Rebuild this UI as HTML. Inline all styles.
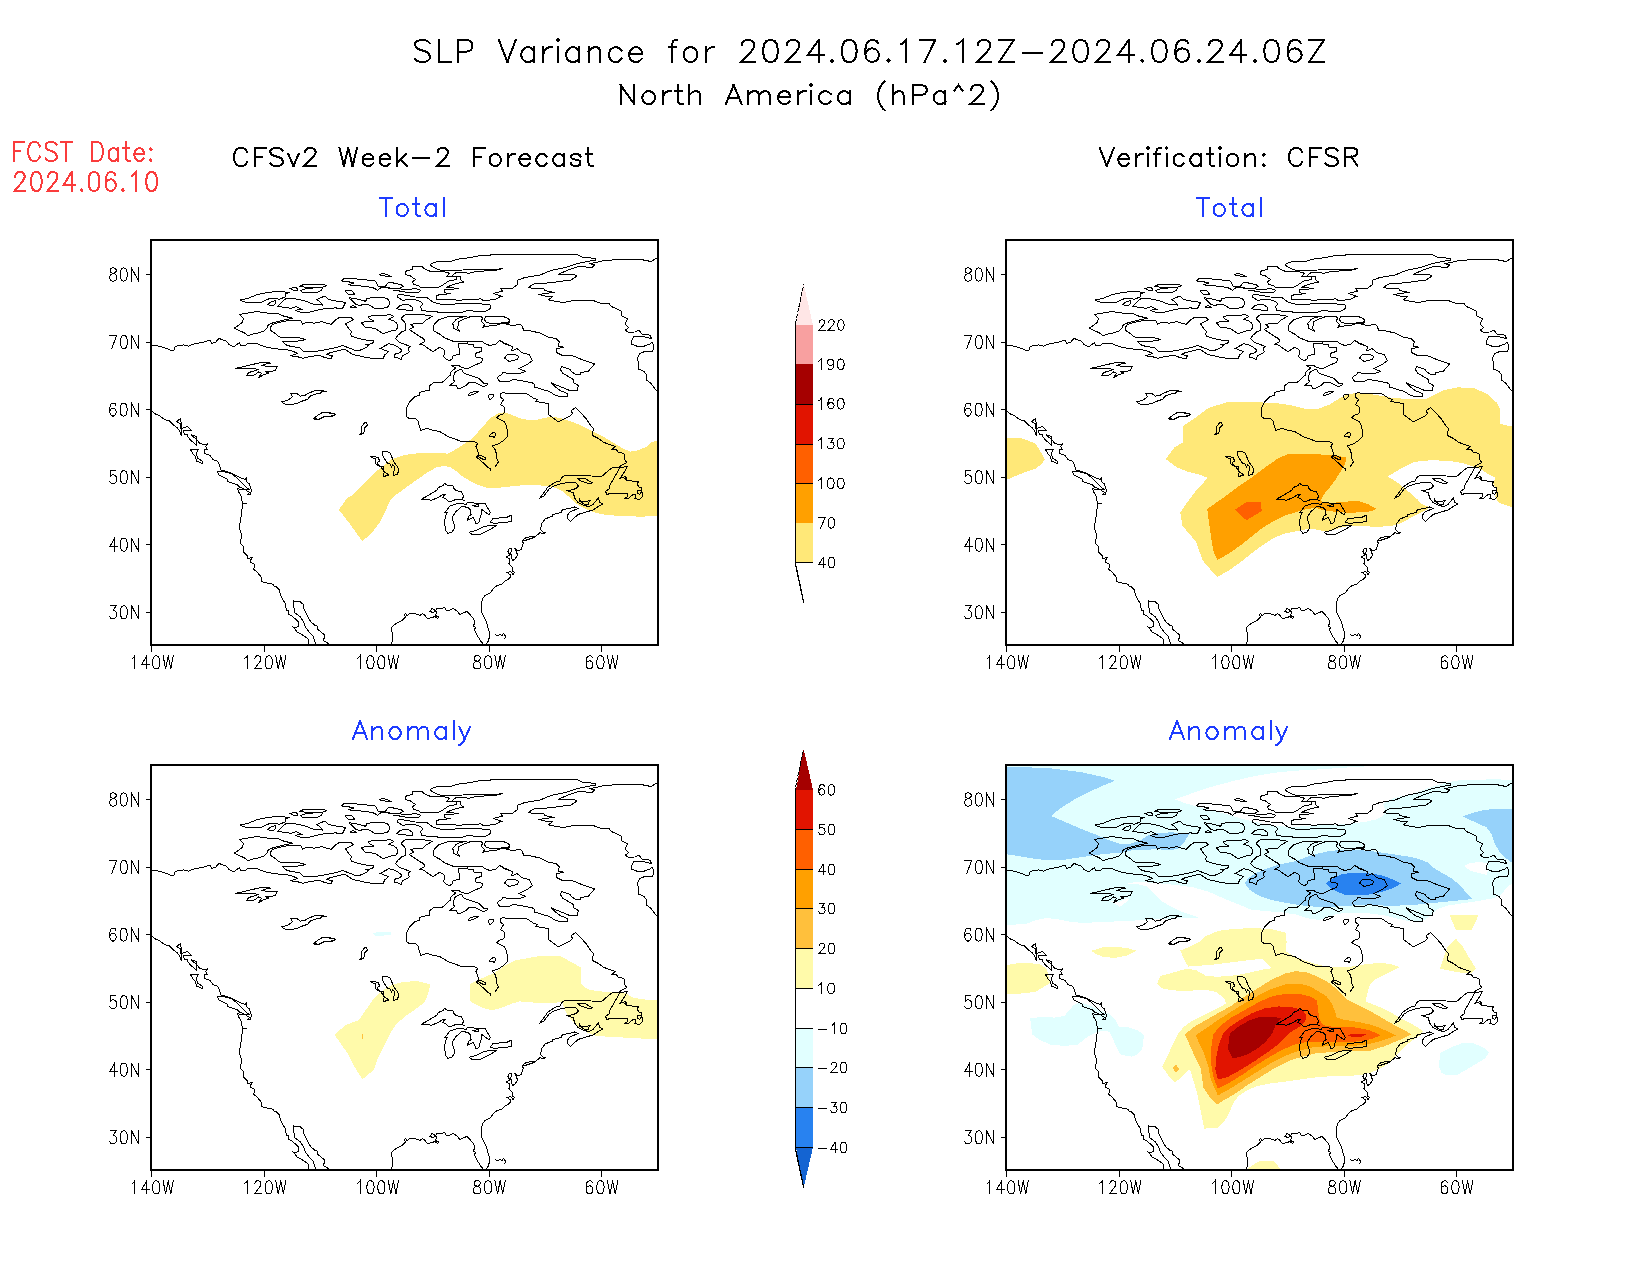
<!DOCTYPE html>
<html><head><meta charset="utf-8"><title>SLP Variance</title>
<style>html,body{margin:0;padding:0;background:#fff;font-family:"Liberation Sans",sans-serif}svg{display:block}</style></head><body>
<svg width="1650" height="1275" viewBox="0 0 1650 1275" shape-rendering="crispEdges">
<title>SLP Variance for 2024.06.17.12Z-2024.06.24.06Z North America (hPa^2)</title>
<desc>FCST Date: 2024.06.10. CFSv2 Week-2 Forecast: Total, Anomaly. Verification: CFSR: Total, Anomaly. Axes 80N 70N 60N 50N 40N 30N, 140W 120W 100W 80W 60W. Colorbar totals 40 70 100 130 160 190 220; anomalies -40 -30 -20 -10 10 20 30 40 50 60.</desc>
<rect width="1650" height="1275" fill="#fff"/>
<defs><clipPath id="pc"><rect x="151" y="240" width="507" height="405"/></clipPath>
<path id="coast" d="M150.36 345.29 L156.71 345.62 L161.72 346.96 L166.73 348.63 L170.91 350.3 L174.59 349.97 L174.59 347.46 L177.09 345.79 L183.78 344.95 L188.79 346.29 L192.13 344.45 L198.48 343.12 L203.99 341.95 L209.01 340.28 L210.51 340.94 L211.85 343.28 L216.02 342.28 L217.19 340.28 L219.37 338.27 L221.54 339.61 L224.71 340.28 L226.88 341.61 L229.39 344.95 L232.23 345.62 M240.11 300.08 L248.23 298.2 L256.97 294.71 L267.58 292.34 L276.32 291.71 L282.56 291.09 L285.93 292.34 L289.68 292.34 L285.06 294.21 L285.43 296.96 L279.44 299.08 L275.07 298.83 L270.7 298.2 L267.33 299.45 L262.59 301.95 L258.84 302.95 L246.98 302.57 L242.61 301.33 L240.11 300.08 M267.58 304.2 L271.33 301.7 L275.7 300.45 L275.95 303.2 L273.2 305.45 L269.45 305.45 L267.58 304.2 M289.43 288.47 L296.67 287.34 L297.54 290.46 L293.17 290.09 L289.43 288.47 M299.42 286.34 L303.79 284.47 L313.15 284.22 L321.89 284.47 L326.63 285.35 L323.76 286.97 L319.39 287.34 L311.9 287.59 L305.66 287.34 L299.42 286.34 M300.04 290.46 L305.66 288.84 L313.15 287.97 L323.14 287.97 L321.26 290.09 L318.14 291.96 L311.9 292.84 L303.16 292.59 L300.04 290.46 M277.57 306.57 L281.94 301.95 L285.68 298.83 L290.68 298.2 L296.92 299.08 L303.16 300.45 L308.15 302.2 L313.15 304.2 L319.39 304.45 L322.51 305.07 L320.01 301.7 L316.89 299.7 L320.64 297.83 L325.01 295.96 L328.75 299.45 L334.37 300.7 L340.61 301.7 L345.61 302.32 L342.49 308.44 L335.62 307.94 L328.13 308.19 L320.64 309.44 L314.4 310.94 L308.15 312.56 L300.66 312.31 L295.67 310.44 L299.42 309.19 L302.54 309.69 L299.42 308.44 L296.29 306.32 L291.93 308.19 L285.68 307.82 L281.31 306.94 L277.57 306.57 M239.49 314.43 L246.98 313.19 L257.59 311.31 L263.21 312.81 L270.7 313.19 L278.19 313.44 L283.19 315.93 L288.18 317.18 L292.8 318.18 L286.93 319.43 L279.44 321.05 L273.2 322.8 L268.45 324.42 L266.96 328.17 L264.46 330.66 L259.47 332.79 L253.22 334.03 L247.98 335.66 L243.86 332.54 L238.24 330.29 L234.25 328.17 L238.87 325.05 L241.99 322.55 L243.49 318.8 L239.49 314.43 M270.7 326.92 L271.95 325.05 L275.07 323.42 L281.94 321.68 L289.43 320.43 L295.67 320.05 L300.66 320.43 L302.54 324.05 L306.91 322.3 L314.4 323.17 L321.89 321.68 L326.88 323.17 L331.25 324.42 L335.62 319.68 L339.37 317.56 L344.98 317.18 L350.6 317.56 L353.72 319.18 L350.6 321.3 L345.61 323.8 L347.48 326.92 L349.98 330.04 L352.1 331.91 L350.6 333.79 L351.48 336.28 L356.84 337.91 L362.46 339.4 L368.08 340.4 L373.7 340.9 L372.45 343.77 L365.58 344.4 L368.7 345.65 L364.96 348.14 L360.59 350.01 L355.6 350.64 L351.85 349.02 L347.48 347.52 L343.11 345.4 L338.12 346.89 L330.63 348.77 L321.89 350.39 L313.15 351.64 L303.79 351.64 L300.41 348.14 L294.42 346.89 L287.56 345.65 L284.43 343.77 L282.81 341.28 L290.68 341.53 L299.42 340.9 L305.66 339.65 L300.04 337.91 L291.93 337.53 L284.43 337.53 L278.82 336.91 L276.32 334.41 L273.82 332.54 L270.95 330.66 L270.7 326.92 M232 345.9 L234.5 346.64 L237.62 343.77 L239.49 342.9 L240.74 345.9 L244.48 345.9 L247.61 343.77 L252.6 343.4 L257.59 343.77 L263.21 346.27 L269.45 347.77 L275.7 348.77 L281.94 349.39 L288.18 350.01 L293.17 351.26 L297.54 353.51 L293.8 354.63 L290.68 355.88 L296.92 356.51 L303.16 358.38 L308.15 356.88 L314.4 355.88 L319.39 355.38 L323.76 357.13 L328.13 358.38 L331.25 358.13 L332.5 355.38 L329.38 355.01 L326.63 354.38 L330.63 352.51 L335.62 351.26 L340.61 350.01 L344.98 349.39 L348.73 351.89 L352.47 354.38 L358.09 355.63 L364.33 357.13 L373.07 358.5 L383.06 358.38 L384.93 354.63 L388.68 351.64 L384.31 350.01 L379.94 348.39 L383.69 346.52 L388.68 343.77 L394.3 345.02 L398.67 347.52 L401.79 350.01 L400.54 352.51 L394.3 354.38 L394.67 357.51 L398.67 358.13 L401.16 359.63 L402.41 355.88 L406.78 353.76 L409.53 351.89 L408.03 348.14 L410.53 346.52 L404.91 344.4 L399.29 342.27 L395.55 338.78 L398.04 335.03 L400.54 333.16 M360.59 322.8 L366.21 321.55 L374.32 321.05 L369.33 318.8 L368.7 316.68 L373.07 315.43 L381.81 315.31 L386.81 315.06 L389.55 314.06 L393.67 316.56 L388.05 319.43 L393.67 320.68 L396.79 323.17 L397.79 326.92 L396.17 330.04 L389.93 331.29 L383.06 333.79 L379.32 331.29 L375.57 328.79 L369.33 327.54 L364.33 326.92 L363.09 324.42 L360.59 322.8 M348.73 297.83 L354.97 298.45 L360.59 299.83 L365.58 301.33 L366.83 298.83 L371.83 297.58 L380.56 297.33 L386.81 298.2 L389.05 300.7 L389.55 303.82 L387.43 307.57 L381.19 308.44 L374.32 308.19 L369.95 305.07 L364.33 304.45 L359.34 305.45 L354.97 303.82 L352.47 300.7 L348.73 297.83 M349.98 307.57 L352.85 305.07 L356.84 307.57 L349.98 307.57 M344.98 290.71 L351.23 290.09 L354.97 294.71 L348.1 294.21 L344.98 290.71 M341.24 280.48 L344.36 278.48 L351.85 278.23 L360.59 279.48 L368.08 280.1 L374.32 280.73 L376.82 282.6 L377.44 285.72 L380.56 286.97 L385.56 286.34 L387.43 283.22 L390.55 282.35 L395.55 283.47 L401.16 284.72 L403.04 286.34 L399.29 288.22 L394.3 288.22 L386.81 287.84 L381.19 287.59 L377.44 290.46 L374.32 288.22 L368.08 286.72 L360.59 285.97 L351.85 285.72 L348.1 284.47 L352.47 283.85 L353.72 282.6 L349.35 281.98 L344.36 281.73 L341.24 280.48 M393.05 290.46 L399.29 290.96 L404.28 291.96 L411.78 292.59 L419.27 291.96 L420.51 290.09 L416.77 288.84 L406.78 289.22 L396.79 288.84 L388.05 287.97 M379.32 274.86 L382.44 273.24 L386.81 274.48 L391.18 276.36 L384.93 275.98 L379.32 274.86 M396.79 308.82 L399.92 305.7 L404.91 304.2 L409.28 305.07 L412.4 307.57 L412.4 310.44 L406.78 310.06 L400.54 309.44 L396.79 308.82 M235.12 368.49 L243.24 366.62 L251.98 364.62 L260.71 362.5 L268.2 362.12 L270.7 363.37 L265.71 364 L261.96 365.62 L269.45 366.62 L277.57 366.24 L275.07 370.61 L269.45 371.86 L265.71 371.61 L268.83 373.11 L263.21 374.98 L258.84 377.48 L261.34 373.11 L258.84 371.86 L254.47 374.98 L246.36 375.61 L248.85 372.49 L255.1 370.61 L258.22 369.37 L251.98 368.12 L244.48 368.12 L235.12 368.49 M281.31 401.58 L287.56 400.58 L290.68 398.08 L292.55 396.58 L290.68 393.71 L296.92 393.34 L300.04 396.21 L304.41 395.58 L308.78 393.09 L314.4 390.84 L320.64 390.34 L326.88 391.46 L321.26 391.84 L320.64 393.34 L314.4 394.33 L310.03 396.21 L307.53 399.33 L301.91 401.2 L298.17 403.07 L293.17 404.32 L285.68 404.7 L281.31 401.58 M313.77 418.68 L318.14 414.93 L323.14 412.44 L329.38 413.06 L335.62 414.31 L330.63 416.18 L323.76 416.81 L319.39 419.3 L313.77 418.68 M500 254.2 L486.67 255.33 L480 255.67 L470 257.67 L456.67 259.33 L451.33 261.33 L437.33 261.33 L430 264.33 L432.67 267 L435.33 268.33 L441.33 270.33 L463.33 270 L483.33 269.33 L495.33 269.33 L502.67 268.67 L494.67 270.67 L484 271 L474 272 L468 273.67 L466.67 272.67 L456 272.67 L453.33 274.67 L451.33 276.67 L460.67 276.47 L460.8 279.67 L463.67 282.33 L456.67 283.33 L450.67 285.33 L446.67 287.47 L450.67 287.8 L458.67 288.33 L452 289.33 L444.67 289.8 L444.8 292.33 L446.67 293.33 L450.67 293.53 L445.33 294.33 L439.33 294.67 L436.53 296 L436.53 299.33 L455.33 299.53 L456.67 300.67 L461.33 300.67 L462.67 299.33 L478.67 299.2 L480 298.33 L483.33 300.67 L488 300.33 L496 299 L500 296.67 L502.67 296.67 L493.33 293.53 L500 291.67 L502.67 291.33 L501.33 289.67 L500.67 288.33 L504 288.2 M412.33 266.33 L421.67 266.33 L423.33 268 L426.67 270 L430.33 271.33 L442.67 271.33 L449.33 273 L448 275 L446.33 276.47 L456.67 277 L456.67 278.87 L455.33 279.8 L450 280.67 L446.67 282.33 L442.67 285 L438.67 287.33 L421.33 287.67 L418.67 286 L414 284.33 L412.33 281.67 L415.67 279.67 L412.67 277.67 L410 275.67 L405.67 274.67 L405.2 271.67 L407.33 270.67 L412.33 269.33 L412.33 266.33 M400 294.33 L408.67 295.67 L415.33 297 L426.67 297.33 L429.33 299.33 L433.33 302.33 L436.67 303.33 L444 304.67 L454.67 304.67 L455.33 303.13 L481.33 303.13 L482.67 304.33 L488.67 304.33 L490.67 305.67 L490.33 308.33 L488 310 L484.67 311.53 L473.33 311.67 L472.67 310.33 L467.33 310.33 L464 311.67 L462.67 312.33 L438 312.33 L437.33 311.53 L426.67 311.67 L425.33 310.33 L421.33 310.33 L421.2 308 L420 307 L422.67 304.67 L421.67 302.33 L419.33 301 L414.67 299.53 L406.67 299.53 L403.33 300.67 L400 298.67 L398 297.67 L397.47 296 L398.13 294.87 L400 294.33 M400 332.67 L405.67 330.33 L405.67 323.67 L404.67 322.33 L401 318.33 L404 315.33 L408 314.33 L424.67 314.2 L425.33 315.33 L432.67 316.2 L426.67 319.67 L422.67 323.33 L414 323.67 L410 324.67 L412 325.33 L413.67 327.33 L411.67 328.33 L409.33 329.53 L413.33 332.33 L420 336.67 L425 340 M466.67 316.2 L449.33 316.2 L438.67 319.67 L434.67 323.67 L433.33 326.33 L433.33 330.67 L440 334.33 L443.33 337.33 L450 340 M466.67 316.2 L460 317.67 L456 319.67 L452.33 323.67 L453.33 324.67 L453.33 328.33 L456.67 329.67 L459.67 331.67 L458 329 L457.33 327 L458.67 325 L458.67 321.67 L464 319 L471.33 316.33 L480.67 316.2 L482.67 318.33 L481.33 321 L484.67 324.67 L482.33 327.67 L484 326.67 L496.67 325 L500 323.8 L506.67 323.13 L510 322.33 M510 320.67 L508 318.33 L502.67 316.2 L486 316.33 L484.33 319.33 L486 322.33 L492 323.67 L499.33 323.13 L506.67 322.67 L509.33 321.67 M441 335 L443.33 337 L448 339.33 L453.33 341.33 L466.67 341.67 L482.67 342 L486 344 L490 345.67 L496 344 L500 340 L503.33 342.67 L510 345.33 M467.33 342 L467.33 343.33 L468 344.33 L473.67 344.53 L474 347.33 L481.67 347.53 L481.67 351.33 L476.67 352.87 L475.33 354.33 L475.67 357 L480.67 357.67 L482.67 359 L481.33 362.33 L475.33 365 L468.67 368 L465.67 368.33 L461.33 367.33 L458.67 365.33 L451.33 365.33 L455.67 368 L451 371.67 L450.33 375 L443.33 381.67 L441.33 382.47 L433.33 382.47 L429.33 386.33 L429.67 390.33 L426.67 390.67 L421.33 391.67 L419.33 393 L419.33 395.33 L415.33 396.33 L409.33 402.33 L406.33 408.33 L406.47 410 M467.33 343.33 L458.33 343.53 L458.33 347.33 L459.53 348.67 L459.33 354.33 L454 355.33 L452.33 356.67 L452 359 L449.33 360.67 L446 359 L443 355.67 L444.53 354.33 L444.53 350.33 L443.67 349.33 L439.33 347.33 L433.33 351.67 L431.33 350.67 L423.33 345 L419.33 344.33 L425 341.67 L424.67 339.33 L422.67 337.67 L418 335.33 M461.33 369 L464 373.33 L470.67 375.67 L478.67 378.33 L483.33 383 L487.67 383.33 L486.67 385.33 L483 386.67 L474.67 382.47 L469.33 382.33 L466.67 385 L460.33 388.33 L457.67 388.33 L456.33 385.33 L449.33 385.33 L453.33 383 L454.67 381 L453.33 379.67 L453.67 375.67 L455 372.33 L456.67 371 L461.33 369 M503 372.2 L502 374.33 L498.67 376 L497.33 378.33 L500 381.67 M468 395.67 L470 393 L474 391.67 L479 391.33 L476 393 L472.67 394.67 L468 395.67 M488 397 L489.67 394.2 L493.67 394.2 L493.67 396.33 L490.33 399.8 L488 397 M510 393.33 L505.33 393.33 L503.33 392.2 L500.67 393.67 L500.33 397.33 L503.67 399.33 L502 402.33 L500.33 404.67 L503.33 406 L504.67 408.33 L504.53 410 M500 254.2 L530 254.2 L560 254.5 L578 255 L582 257 L596 258.5 L595.8 260.5 L590 261 L578 263.5 L565 267.5 L551 270.5 L540 275 L525 277.5 L518 280 L517 285 L513 288 L500 288.8 M657 258 L651 261.5 L641 259.5 L620 259.5 L604 260.5 L596 262.5 L590 263.5 L594.5 265 L592 267.5 L587 267.8 L585 266 L579 266.2 L568 270 L558.5 274.2 L574 274.2 L576.8 276.2 L571 280 L556 282 L545 283.3 L534 284 L528.5 287.2 L533 288.8 L540.5 289 L543.5 288.2 L544.5 290.5 L554.8 292.5 L547 293.2 L539 294.5 L544.5 296 L552.5 296.8 L548.5 299.5 L550.5 300.5 L557 301.5 L563 302.5 L572 300.8 L593 300.5 L600 303 L609 303.5 L611.5 306.5 L621.5 311.2 L621.5 315.5 L627.5 319 L625 324 L628.5 327.5 L625.5 330 L628 332.2 L635 332 L639 330.2 L642 334 L650 335.2 L651.5 338.5 L644 336.8 L634 336.2 L632 340 L631.2 344 L637 346.2 L644 346.2 L650 344 L652 342.2 L654 346 L652.8 351.2 L644 351.8 L640 353.5 L637.5 357.5 L638.5 364 L638.5 369 L644 371.5 L646.5 375 L647 377 M500 316 L506 317.5 L509.5 320 L509 322.5 L506.5 324.5 L513 325.5 L520.5 324.2 L522.5 326.5 L523.5 330.3 L530 330.8 L540 333 L549 337.5 L556 338.5 L559.5 342 L558 346 L563.5 347.2 L556.5 349 L556.5 352.5 L562 355.2 L572 355.5 L583 360 L594.5 364 L588 371.5 L581 372.5 L580 375 L576 374.8 L572 372 L570 369.5 L562 366.5 L560 369 L562.5 373 L569 377 M500 340.5 L504 343.8 L512.5 346.5 L511.5 351 L517 348.5 L521.5 352.5 L529 354.5 L532.5 360.5 L527 364.5 L519 368.5 L525.5 371.5 L520 373.2 L507 373.2 L503 372 M504.5 358 L507 355 L514 354 L518.8 356.5 L517.5 359.5 L509 361.5 L504.5 358 M646.6 377 L646.5 380 L651 383.5 L654 387.5 L657 391 M569 377 L573.5 379.5 L574 383 L578.5 385.5 L577 390.5 L569 390.2 L560 386.5 L551.5 383 L556 387.5 L561 391 L567.5 393.5 L568 396.7 L561 396.7 L555.5 395.5 L549.5 391.5 L541 389 L534.5 387 L534 383.5 L531 382.5 L520 380.5 L513 379.5 L509.5 381.5 L500 382 M510 393.3 L513 394 L520 393.5 L527 393.8 L534 398.5 L537.5 399.5 L535.5 401.5 L543 402.5 L548.5 404 L549 410 L548.5 414.5 L553 418 L558.5 422 L564 419 L571.5 415.5 L572.5 413 L570.8 411 L575.5 407.5 L580 412 L586 418.5 L590 424.5 L594 429.5 L592.5 432 L592.5 435.5 L598.5 438.5 L604 442.5 L611 445 L615.5 446.5 L611.5 449.5 L616 449.2 L618 452 L623 453.2 L625.5 455.5 M625 455 L624.5 459 L626.8 462.8 L622.5 464.5 L619 467 L613 467.5 L609 470 L602 476.2 L591 476 L565 475.3 L562 477.5 L560 481.2 L556 481.8 L548 487 L544 492.5 L539.5 498.5 L544 496 L549 489 L554 486 L562 483.5 L570 482 L576 483 L578.5 486 L576 488.5 L571.5 490 L566.8 490.5 L573.5 492.8 L574.5 498 L578 502.5 L584 505.5 L589 506.5 L593.5 504 L598.5 497.5 L599.5 502 L602.5 504 L597.5 507 L593 510 L586 512 L578 514.5 L570.5 521.5 L568 519 L567.5 515 L570 512 L574.5 510 L578.5 508.5 L574.5 507 L569 508.5 L562.5 509.5 L561 512.5 L553 514.5 L552.5 516 L545 519 L541.5 524 L540.5 529.5 L543 532 L545.5 532.5 L544 534 L540 532.5 L538 534.5 L534.5 537 L529 539 L525 540.5 L521.8 541 L523.5 543 L521 549.5 L517.5 551 L515 548.5 L516.5 552.5 L517.8 555 L515 559 L513 560.5 L511 558 L512 555 L510 553.5 L511.5 551 L511.8 548.5 L509 549 L508 551.5 L509.5 555 L506 557 L509 558.5 L510 561 L509 563.5 L511 566 L513 568 L512 571 L514.5 572.5 L513 574.5 L510.5 571.5 L507 572.5 L510 574.5 L511 576.5 L508.5 579 L504.5 581.5 M627.5 466.5 L620 467.5 L618 471 L614 478 L609.5 486 L610 488 L605.5 491.5 L607 494.5 L610 493.5 L627 493.5 L628 496.5 L624.5 498.5 L629 498 L633 494.5 L635.5 495 L635 498.5 L639.5 499.5 L642 497 L642.5 493.5 L641 490.5 L638 490 L637 493 L639.5 494.5 L641 492.5 L641.5 487 L639 487 L637 484 L638.5 481.8 L634 481.2 L627 480.5 L624 478 L627 478.5 L625 476.5 L620 478.5 L623 474 L625.5 470 L627.5 466.5 M577.5 478.5 L585 478.5 L592.5 483 L588 483.5 L581 481 L577.5 478.5 M579 498.5 L581 501.5 L585.5 501.5 L590 500.5 L588 503 L588 504.5 L584 504 L580 501.5 L579 498.5 M522 541 L526 537.5 L534 536.2 L535 537 L529 539.5 L522 541 M504.5 581.5 L502 584 L497 585.5 L494 588 L490 593 L485 595.5 L482.5 599 L481.2 605 L481.5 612 L484 617 L486.5 622 L488 628 L489.5 632 L489.5 637 L488 641.5 L486 644 M495.5 634.5 L497.5 636 L500 634.5 L502 635.5 L503.5 633.5 L505.5 636 L504.5 639.5 M406.5 410 L406.5 416.5 L409 418.5 L415.5 418.8 L418 421 L419.5 426.5 L421 430.5 L427 428.3 L432 430 L439.5 431.5 L444 434 L449 437.2 L455 439 L461 441.5 L469 441.5 L475 441.8 L477.5 443.5 L476 446.5 L478 452 L478 455.5 L476.5 457 L480 460 L484 463.5 L488 467.5 L490.5 468.5 L490.5 470.5 M495 467 L497 464 L498.5 462 L497 459 L496.5 454 L495 449.5 L492.5 446 L498 444 L503 441 L507 437 L507.5 431.5 L506 425 L504 421.5 L500 419.5 L496.5 417.5 L499 415.5 L504 413.5 L504.5 410 M478 456.2 L481 455.5 L485.5 458 L485 459.8 L481 458.5 L478 456.2 M489 435.5 L492.5 433 L495 432.5 L495.5 435.5 L494 438 L493 436.2 L490.5 437 L489 435.5 M421.5 499.2 L429 495 L437 490 L438.5 487.5 L443 485.5 L444.5 483.3 L447 485 L452.5 485 L454.5 489.5 L457.5 491 L461.5 491.5 L463.5 496.5 L462 499.5 L464.5 500.5 L460 499.3 L455.5 499.5 L452 501.2 L448.5 501.2 L445.5 498.5 L443 497.5 L443.5 495.5 L445.5 494.5 L442 495 L438.5 497.5 L434.5 499 L431 500.5 L428 499 L421.5 499.2 M450 505.8 L456 504 L462 503.5 L466.5 504.5 L467.2 502.5 L474 503 L480 503.5 L485.5 504 L488 508.5 L490.5 512.5 L489 514.5 L485 512 L482 509.5 L481.5 514 L480 518 L479.5 522.5 L476 524 L474.5 520 L473 517.5 L470 519 L467.5 520.5 L468.5 516.5 L471 514.5 L470.5 510 L468 507.5 L461.5 506.2 L459 509 L455.5 512 L453 516 L452.5 520 L454 524 L454.5 528 L452 532 L448 533.5 L446 531 L445 526 L444.5 521 L446 515 L447.8 512 L444.5 513 L447 510 L450 505.8 M472.5 505.5 L479 504.5 L478 507 L472.5 505.5 M490.5 522 L493 518.5 L501 517.8 L505.5 518 L510.5 515.5 L511.8 515 L511.8 521.2 L506 522.5 L498 523 L493 523 L490.5 522 M469 532.2 L476 530.5 L483 527 L489 525.5 L496.5 525.5 L490 529.5 L480 534.5 L472 534.5 L469 532.2 M313.2 418.7 L319 414.5 L322.5 412.5 L327 412.2 L336 414.2 L331.5 416.5 L323 417 L318.5 419.5 L315 419.5 L313.2 418.7 M359 434.8 L361.5 432.5 L362 426 L364 423.5 L366 422 L367.8 425 L365 427.5 L364.5 432.5 L361.5 434 L359 434.8 M370 456.2 L374.5 456.2 L378.5 458 L379.5 461 L377.5 462.5 L378 464.5 L381 466.5 L384 466.5 L383 469 L384.5 471.5 L388.5 475 L384 476.5 L383.5 474 L384.5 472.5 L382.5 469.5 L381.5 467.5 L378 465.5 L375.5 463.5 L375.5 459 L373 458 L370 456.2 M382 452 L386 451.2 L390 453 L392 457.5 L394 462 L397.5 467 L399 469.5 L397.5 474 L393.5 475.5 L394 471 L395 467 L392.5 465 L391.5 467.5 L390 464 L387.5 463 L384.5 459 L382.5 455 L382 452 M151 410 L154.5 413.5 L160 416 L164.5 419.5 L169.5 421 L173.5 425 L177.5 428 L179.5 431 L181.2 435.5 L182 428 L180.5 418.5 L176.5 421.8 L180 423.5 L181 429 L187.5 426.2 L191.5 430.5 L183.5 430.5 L184.5 435 L187.5 434.5 L188 437 L191 440.5 L196.5 445 L197 436.5 L191.5 435 L197 440 L199.5 443 L203 444.5 L207.5 444 L205.5 446.5 L207.5 449.5 L204 450 L205 453.5 L210 455.5 L213 459.5 L217.5 461.2 L219.5 465 L221 470 L225 471 L230 472.5 L235 475 L241 478 L245 479.5 L246.5 478 L247 482 L249.5 484 L251.5 491 L250 494.5 L247.5 494.5 L249.5 492.5 L245 489.5 L239 489 L237 488 L239 492.5 L241 496 L242 501 L242.5 503 L246.5 503.2 L242.5 504 L242 509 L241.2 515 L240.5 522 M217.5 472 L221 471 L227 472.5 L232 474 L237 478 L241 482 L245 486 L249 489.5 L244 489 L239.5 487 L237 484.5 L232 483 L228 481.5 L227 479 L223 477 L219.5 475.5 L217.5 472 M190.5 449.5 L198.5 449.5 L196.5 453 L197.5 458 L202 461 L202.5 463.5 L196.5 461 L195.5 456.5 L193 454 L190.5 449.5 M240.5 522 L239 525 L239.8 529 L241.5 535 L241 539 L240.2 543.5 L243.5 546.5 L243.5 552 L247.5 556 L247.8 558.5 L250.5 557.8 L252.5 557.2 L251 559.5 L250.5 562 L254.5 564.5 L254.5 567.5 L253 569 L256 571 L261 576.5 L261.5 581 L263.5 582.5 L269 583.2 L273.5 584.5 L274 586 L276.5 587 L279.5 590 L280.5 595 L282.5 599 L285 603 L286.5 610.5 L288.5 611 L288.5 614.5 L292 616 L296 619.5 L299 622.5 L298.5 626 L295 628 L292.5 626.5 L294.5 628.5 L297 632 L301 634 L304 636 L308 638.5 L308.8 644 M315.5 644 L313 636 L309.5 632.5 L306 628 L303 621 L300 616.5 L295 613 L294 608 L293.2 600.5 L296.5 602 L299.5 601.2 L303.5 604.5 L304 609 L307 615 L310.5 621.5 L314.5 625 L317.5 626.2 L318 629.5 L324 634.5 L324.5 636.5 L323.5 640.5 L326 642 L329 644 M391.5 644.5 L392.5 639 L392.8 633.5 L391.5 631 L391.5 627.5 L394 625 L398 622.5 L402.5 620 L405.5 617 L406.5 614.5 L405.5 613.5 L404.2 615 L405.5 616.5 L407 615.5 L410 613.5 L415 613.5 L420 615.5 L422.5 613.5 L425 615.5 L427.5 618.5 L432 617.5 L435 616.5 L437.5 618.5 L438.5 617 L435.5 615.5 L437 612 L434.5 610 L432 608.5 L430 611.5 L433 612.5 L435.5 611 L437 608.5 L442 608.5 L444.5 607.5 L446 610 L449 610.5 L453 608.5 L457 611 L460 614.5 L464 612.5 L467 611.5 L470 614.5 L474 619.5 L474.5 623 L473.5 626 L475.5 627.2 L474.5 630 L477 635 L480 640 L483 644" fill="none" stroke="#000" stroke-width="1" stroke-linejoin="round"/>
</defs>
<path d="M429.7 43.14 L427.6 41.04 L424.45 39.99 L420.25 39.99 L417.1 41.04 L415 43.14 L415 45.23 L416.05 47.33 L417.1 48.38 L419.2 49.42 L425.5 51.52 L427.6 52.57 L428.65 53.62 L429.7 55.71 L429.7 58.86 L427.6 60.95 L424.45 62 L420.25 62 L417.1 60.95 L415 58.86 M438.53 39.99 L438.53 62 M438.53 62 L451.13 62 M457.7 39.99 L457.7 62 M457.7 39.99 L467.16 39.99 L470.31 41.04 L471.36 42.09 L472.41 44.18 L472.41 47.33 L471.36 49.42 L470.31 50.47 L467.16 51.52 L457.7 51.52 M498.91 39.99 L507.31 62 M515.71 39.99 L507.31 62 M533.84 47.33 L533.84 62 M533.84 50.47 L531.74 48.38 L529.64 47.33 L526.49 47.33 L524.39 48.38 L522.29 50.47 L521.24 53.62 L521.24 55.71 L522.29 58.86 L524.39 60.95 L526.49 62 L529.64 62 L531.74 60.95 L533.84 58.86 M543.49 47.33 L543.49 62 M543.49 53.62 L544.54 50.47 L546.64 48.38 L548.74 47.33 L551.89 47.33 M556.83 39.99 L557.88 41.04 L558.93 39.99 L557.88 38.94 L556.83 39.99 M557.88 47.33 L557.88 62 M578.79 47.33 L578.79 62 M578.79 50.47 L576.69 48.38 L574.59 47.33 L571.44 47.33 L569.34 48.38 L567.24 50.47 L566.19 53.62 L566.19 55.71 L567.24 58.86 L569.34 60.95 L571.44 62 L574.59 62 L576.69 60.95 L578.79 58.86 M588.59 47.33 L588.59 62 M588.59 51.52 L591.74 48.38 L593.84 47.33 L596.99 47.33 L599.09 48.38 L600.14 51.52 L600.14 62 M621.49 50.47 L619.39 48.38 L617.29 47.33 L614.14 47.33 L612.04 48.38 L609.94 50.47 L608.89 53.62 L608.89 55.71 L609.94 58.86 L612.04 60.95 L614.14 62 L617.29 62 L619.39 60.95 L621.49 58.86 M629.12 53.62 L641.72 53.62 L641.72 51.52 L640.67 49.42 L639.62 48.38 L637.52 47.33 L634.37 47.33 L632.27 48.38 L630.17 50.47 L629.12 53.62 L629.12 55.71 L630.17 58.86 L632.27 60.95 L634.37 62 L637.52 62 L639.62 60.95 L641.72 58.86 M677.3 39.99 L675.2 39.99 L673.1 41.04 L672.05 44.18 L672.05 62 M668.9 47.33 L676.25 47.33 M688.98 47.33 L686.88 48.38 L684.78 50.47 L683.73 53.62 L683.73 55.71 L684.78 58.86 L686.88 60.95 L688.98 62 L692.13 62 L694.23 60.95 L696.34 58.86 L697.39 55.71 L697.39 53.62 L696.34 50.47 L694.23 48.38 L692.13 47.33 L688.98 47.33 M705.99 47.33 L705.99 62 M705.99 53.62 L707.04 50.47 L709.14 48.38 L711.24 47.33 L714.39 47.33 M741.72 45.23 L741.72 44.18 L742.77 42.09 L743.82 41.04 L745.92 39.99 L750.12 39.99 L752.22 41.04 L753.27 42.09 L754.32 44.18 L754.32 46.28 L753.27 48.38 L751.17 51.52 L740.67 62 L755.37 62 M769.45 39.99 L766.29 41.04 L764.19 44.18 L763.14 49.42 L763.14 52.57 L764.19 57.81 L766.29 60.95 L769.45 62 L771.55 62 L774.7 60.95 L776.8 57.81 L777.85 52.57 L777.85 49.42 L776.8 44.18 L774.7 41.04 L771.55 39.99 L769.45 39.99 M786.67 45.23 L786.67 44.18 L787.72 42.09 L788.77 41.04 L790.87 39.99 L795.07 39.99 L797.17 41.04 L798.22 42.09 L799.27 44.18 L799.27 46.28 L798.22 48.38 L796.12 51.52 L785.62 62 L800.32 62 M818.6 39.99 L808.09 54.66 L823.85 54.66 M818.6 39.99 L818.6 62 M832.3 59.9 L831.25 60.95 L832.3 62 L833.35 60.95 L832.3 59.9 M848.11 39.99 L844.96 41.04 L842.86 44.18 L841.81 49.42 L841.81 52.57 L842.86 57.81 L844.96 60.95 L848.11 62 L850.21 62 L853.36 60.95 L855.46 57.81 L856.51 52.57 L856.51 49.42 L855.46 44.18 L853.36 41.04 L850.21 39.99 L848.11 39.99 M877.94 43.14 L876.89 41.04 L873.74 39.99 L871.64 39.99 L868.48 41.04 L866.38 44.18 L865.33 49.42 L865.33 54.66 L866.38 58.86 L868.48 60.95 L871.64 62 L872.69 62 L875.84 60.95 L877.94 58.86 L878.99 55.71 L878.99 54.66 L877.94 51.52 L875.84 49.42 L872.69 48.38 L871.64 48.38 L868.48 49.42 L866.38 51.52 L865.33 54.66 M888.49 59.9 L887.44 60.95 L888.49 62 L889.54 60.95 L888.49 59.9 M901.15 44.18 L903.25 43.14 L906.4 39.99 L906.4 62 M935.18 39.99 L924.67 62 M920.47 39.99 L935.18 39.99 M944.68 59.9 L943.63 60.95 L944.68 62 L945.73 60.95 L944.68 59.9 M957.34 44.18 L959.44 43.14 L962.59 39.99 L962.59 62 M977.71 45.23 L977.71 44.18 L978.76 42.09 L979.81 41.04 L981.91 39.99 L986.11 39.99 L988.21 41.04 L989.26 42.09 L990.31 44.18 L990.31 46.28 L989.26 48.38 L987.16 51.52 L976.66 62 L991.36 62 M1013.84 39.99 L999.14 62 M999.14 39.99 L1013.84 39.99 M999.14 62 L1013.84 62 M1022.88 52.57 L1041.79 52.57 M1051.88 45.23 L1051.88 44.18 L1052.93 42.09 L1053.98 41.04 L1056.08 39.99 L1060.28 39.99 L1062.38 41.04 L1063.43 42.09 L1064.48 44.18 L1064.48 46.28 L1063.43 48.38 L1061.33 51.52 L1050.83 62 L1065.53 62 M1079.61 39.99 L1076.46 41.04 L1074.35 44.18 L1073.3 49.42 L1073.3 52.57 L1074.35 57.81 L1076.46 60.95 L1079.61 62 L1081.71 62 L1084.86 60.95 L1086.96 57.81 L1088.01 52.57 L1088.01 49.42 L1086.96 44.18 L1084.86 41.04 L1081.71 39.99 L1079.61 39.99 M1096.83 45.23 L1096.83 44.18 L1097.88 42.09 L1098.93 41.04 L1101.03 39.99 L1105.23 39.99 L1107.33 41.04 L1108.38 42.09 L1109.43 44.18 L1109.43 46.28 L1108.38 48.38 L1106.28 51.52 L1095.78 62 L1110.48 62 M1128.76 39.99 L1118.26 54.66 L1134.01 54.66 M1128.76 39.99 L1128.76 62 M1142.46 59.9 L1141.41 60.95 L1142.46 62 L1143.51 60.95 L1142.46 59.9 M1158.27 39.99 L1155.12 41.04 L1153.02 44.18 L1151.97 49.42 L1151.97 52.57 L1153.02 57.81 L1155.12 60.95 L1158.27 62 L1160.37 62 L1163.52 60.95 L1165.62 57.81 L1166.67 52.57 L1166.67 49.42 L1165.62 44.18 L1163.52 41.04 L1160.37 39.99 L1158.27 39.99 M1188.1 43.14 L1187.05 41.04 L1183.9 39.99 L1181.8 39.99 L1178.65 41.04 L1176.54 44.18 L1175.49 49.42 L1175.49 54.66 L1176.54 58.86 L1178.65 60.95 L1181.8 62 L1182.85 62 L1186 60.95 L1188.1 58.86 L1189.15 55.71 L1189.15 54.66 L1188.1 51.52 L1186 49.42 L1182.85 48.38 L1181.8 48.38 L1178.65 49.42 L1176.54 51.52 L1175.49 54.66 M1198.65 59.9 L1197.6 60.95 L1198.65 62 L1199.7 60.95 L1198.65 59.9 M1209.21 45.23 L1209.21 44.18 L1210.26 42.09 L1211.31 41.04 L1213.41 39.99 L1217.61 39.99 L1219.71 41.04 L1220.76 42.09 L1221.81 44.18 L1221.81 46.28 L1220.76 48.38 L1218.66 51.52 L1208.16 62 L1222.86 62 M1241.14 39.99 L1230.63 54.66 L1246.39 54.66 M1241.14 39.99 L1241.14 62 M1254.84 59.9 L1253.79 60.95 L1254.84 62 L1255.89 60.95 L1254.84 59.9 M1270.65 39.99 L1267.5 41.04 L1265.4 44.18 L1264.35 49.42 L1264.35 52.57 L1265.4 57.81 L1267.5 60.95 L1270.65 62 L1272.75 62 L1275.9 60.95 L1278 57.81 L1279.05 52.57 L1279.05 49.42 L1278 44.18 L1275.9 41.04 L1272.75 39.99 L1270.65 39.99 M1300.47 43.14 L1299.42 41.04 L1296.27 39.99 L1294.17 39.99 L1291.02 41.04 L1288.92 44.18 L1287.87 49.42 L1287.87 54.66 L1288.92 58.86 L1291.02 60.95 L1294.17 62 L1295.22 62 L1298.37 60.95 L1300.47 58.86 L1301.52 55.71 L1301.52 54.66 L1300.47 51.52 L1298.37 49.42 L1295.22 48.38 L1294.17 48.38 L1291.02 49.42 L1288.92 51.52 L1287.87 54.66 M1324 39.99 L1309.3 62 M1309.3 39.99 L1324 39.99 M1309.3 62 L1324 62" fill="none" stroke="#000" stroke-width="2" stroke-linecap="square" stroke-linejoin="miter"/>
<path d="M620.5 85 L620.5 104 M620.5 85 L634.2 104 M634.2 85 L634.2 104 M647.31 91.33 L645.35 92.23 L643.4 94.05 L642.42 96.76 L642.42 98.57 L643.4 101.28 L645.35 103.09 L647.31 104 L650.25 104 L652.2 103.09 L654.16 101.28 L655.14 98.57 L655.14 96.76 L654.16 94.05 L652.2 92.23 L650.25 91.33 L647.31 91.33 M663.15 91.33 L663.15 104 M663.15 96.76 L664.13 94.05 L666.09 92.23 L668.05 91.33 L670.98 91.33 M677.61 85 L677.61 100.38 L678.59 103.09 L680.54 104 L682.5 104 M674.67 91.33 L681.52 91.33 M689.47 85 L689.47 104 M689.47 94.95 L692.4 92.23 L694.36 91.33 L697.29 91.33 L699.25 92.23 L700.23 94.95 L700.23 104 M733.73 85 L725.9 104 M733.73 85 L741.56 104 M728.83 97.67 L738.62 97.67 M748.09 91.33 L748.09 104 M748.09 94.95 L751.03 92.23 L752.98 91.33 L755.92 91.33 L757.88 92.23 L758.86 94.95 L758.86 104 M758.86 94.95 L761.79 92.23 L763.75 91.33 L766.68 91.33 L768.64 92.23 L769.62 94.95 L769.62 104 M778.11 96.76 L789.86 96.76 L789.86 94.95 L788.88 93.14 L787.9 92.23 L785.94 91.33 L783.01 91.33 L781.05 92.23 L779.09 94.05 L778.11 96.76 L778.11 98.57 L779.09 101.28 L781.05 103.09 L783.01 104 L785.94 104 L787.9 103.09 L789.86 101.28 M797.8 91.33 L797.8 104 M797.8 96.76 L798.78 94.05 L800.74 92.23 L802.69 91.33 L805.63 91.33 M810.23 85 L811.21 85.9 L812.19 85 L811.21 84.09 L810.23 85 M811.21 91.33 L811.21 104 M830.69 94.05 L828.73 92.23 L826.78 91.33 L823.84 91.33 L821.88 92.23 L819.93 94.05 L818.95 96.76 L818.95 98.57 L819.93 101.28 L821.88 103.09 L823.84 104 L826.78 104 L828.73 103.09 L830.69 101.28 M849.54 91.33 L849.54 104 M849.54 94.05 L847.58 92.23 L845.62 91.33 L842.69 91.33 L840.73 92.23 L838.77 94.05 L837.79 96.76 L837.79 98.57 L838.77 101.28 L840.73 103.09 L842.69 104 L845.62 104 L847.58 103.09 L849.54 101.28 M884.85 81.38 L882.9 83.19 L880.94 85.9 L878.98 89.52 L878 94.05 L878 97.67 L878.98 102.19 L880.94 105.81 L882.9 108.53 L884.85 110.33 M892.8 85 L892.8 104 M892.8 94.95 L895.73 92.23 L897.69 91.33 L900.63 91.33 L902.58 92.23 L903.56 94.95 L903.56 104 M912.83 85 L912.83 104 M912.83 85 L921.64 85 L924.57 85.9 L925.55 86.81 L926.53 88.61 L926.53 91.33 L925.55 93.14 L924.57 94.05 L921.64 94.95 L912.83 94.95 M945.44 91.33 L945.44 104 M945.44 94.05 L943.49 92.23 L941.53 91.33 L938.59 91.33 L936.64 92.23 L934.68 94.05 L933.7 96.76 L933.7 98.57 L934.68 101.28 L936.64 103.09 L938.59 104 L941.53 104 L943.49 103.09 L945.44 101.28 M954.5 90.42 L958.42 85 L962.33 90.42 M971.39 89.52 L971.39 88.61 L972.37 86.81 L973.35 85.9 L975.31 85 L979.22 85 L981.18 85.9 L982.16 86.81 L983.14 88.61 L983.14 90.42 L982.16 92.23 L980.2 94.95 L970.42 104 L984.11 104 M991.15 81.38 L993.11 83.19 L995.06 85.9 L997.02 89.52 L998 94.05 L998 97.67 L997.02 102.19 L995.06 105.81 L993.11 108.53 L991.15 110.33" fill="none" stroke="#000" stroke-width="2" stroke-linecap="square" stroke-linejoin="miter"/>
<path d="M14 142 L14 161 M14 142 L24.12 142 M14 151.04 L20.23 151.04 M39.88 146.52 L39.1 144.71 L37.55 142.9 L35.99 142 L32.88 142 L31.32 142.9 L29.77 144.71 L28.99 146.52 L28.21 149.24 L28.21 153.76 L28.99 156.47 L29.77 158.28 L31.32 160.09 L32.88 161 L35.99 161 L37.55 160.09 L39.1 158.28 L39.88 156.47 M56.59 144.71 L55.03 142.9 L52.7 142 L49.58 142 L47.25 142.9 L45.69 144.71 L45.69 146.52 L46.47 148.33 L47.25 149.24 L48.81 150.14 L53.48 151.95 L55.03 152.85 L55.81 153.76 L56.59 155.57 L56.59 158.28 L55.03 160.09 L52.7 161 L49.58 161 L47.25 160.09 L45.69 158.28 M66.13 142 L66.13 161 M60.68 142 L71.58 142 M91.99 142 L91.99 161 M91.99 142 L97.43 142 L99.77 142.9 L101.33 144.71 L102.1 146.52 L102.88 149.24 L102.88 153.76 L102.1 156.47 L101.33 158.28 L99.77 160.09 L97.43 161 L91.99 161 M117.92 148.33 L117.92 161 M117.92 151.04 L116.37 149.24 L114.81 148.33 L112.48 148.33 L110.92 149.24 L109.36 151.04 L108.59 153.76 L108.59 155.57 L109.36 158.28 L110.92 160.09 L112.48 161 L114.81 161 L116.37 160.09 L117.92 158.28 M125.74 142 L125.74 157.38 L126.52 160.09 L128.08 161 L129.63 161 M123.41 148.33 L128.86 148.33 M134.4 153.76 L143.73 153.76 L143.73 151.95 L142.96 150.14 L142.18 149.24 L140.62 148.33 L138.29 148.33 L136.73 149.24 L135.17 151.04 L134.4 153.76 L134.4 155.57 L135.17 158.28 L136.73 160.09 L138.29 161 L140.62 161 L142.18 160.09 L143.73 158.28 M150.72 148.33 L149.94 149.24 L150.72 150.14 L151.5 149.24 L150.72 148.33 M150.72 159.19 L149.94 160.09 L150.72 161 L151.5 160.09 L150.72 159.19" fill="none" stroke="#FA3C3C" stroke-width="2" stroke-linecap="square" stroke-linejoin="miter"/>
<path d="M15.27 176.52 L15.27 175.62 L16.04 173.81 L16.81 172.9 L18.35 172 L21.42 172 L22.96 172.9 L23.73 173.81 L24.5 175.62 L24.5 177.43 L23.73 179.24 L22.19 181.95 L14.5 191 L25.27 191 M35.58 172 L33.27 172.9 L31.74 175.62 L30.97 180.14 L30.97 182.85 L31.74 187.38 L33.27 190.09 L35.58 191 L37.12 191 L39.43 190.09 L40.97 187.38 L41.74 182.85 L41.74 180.14 L40.97 175.62 L39.43 172.9 L37.12 172 L35.58 172 M48.2 176.52 L48.2 175.62 L48.97 173.81 L49.74 172.9 L51.28 172 L54.36 172 L55.9 172.9 L56.67 173.81 L57.43 175.62 L57.43 177.43 L56.67 179.24 L55.13 181.95 L47.43 191 L58.2 191 M71.59 172 L63.9 184.66 L75.44 184.66 M71.59 172 L71.59 191 M81.63 189.19 L80.86 190.09 L81.63 191 L82.4 190.09 L81.63 189.19 M93.21 172 L90.91 172.9 L89.37 175.62 L88.6 180.14 L88.6 182.85 L89.37 187.38 L90.91 190.09 L93.21 191 L94.75 191 L97.06 190.09 L98.6 187.38 L99.37 182.85 L99.37 180.14 L98.6 175.62 L97.06 172.9 L94.75 172 L93.21 172 M115.07 174.71 L114.3 172.9 L111.99 172 L110.45 172 L108.14 172.9 L106.6 175.62 L105.83 180.14 L105.83 184.66 L106.6 188.28 L108.14 190.09 L110.45 191 L111.22 191 L113.53 190.09 L115.07 188.28 L115.84 185.57 L115.84 184.66 L115.07 181.95 L113.53 180.14 L111.22 179.24 L110.45 179.24 L108.14 180.14 L106.6 181.95 L105.83 184.66 M122.8 189.19 L122.03 190.09 L122.8 191 L123.57 190.09 L122.8 189.19 M132.07 175.62 L133.61 174.71 L135.92 172 L135.92 191 M150.84 172 L148.54 172.9 L147 175.62 L146.23 180.14 L146.23 182.85 L147 187.38 L148.54 190.09 L150.84 191 L152.38 191 L154.69 190.09 L156.23 187.38 L157 182.85 L157 180.14 L156.23 175.62 L154.69 172.9 L152.38 172 L150.84 172" fill="none" stroke="#FA3C3C" stroke-width="2" stroke-linecap="square" stroke-linejoin="miter"/>
<path d="M247.12 152.29 L246.24 150.57 L244.49 148.86 L242.74 148 L239.25 148 L237.5 148.86 L235.75 150.57 L234.87 152.29 L234 154.86 L234 159.14 L234.87 161.72 L235.75 163.43 L237.5 165.14 L239.25 166 L242.74 166 L244.49 165.14 L246.24 163.43 L247.12 161.72 M254.52 148 L254.52 166 M254.52 148 L265.89 148 M254.52 156.57 L261.52 156.57 M282.73 150.57 L280.98 148.86 L278.36 148 L274.86 148 L272.23 148.86 L270.49 150.57 L270.49 152.29 L271.36 154 L272.23 154.86 L273.98 155.72 L279.23 157.43 L280.98 158.29 L281.85 159.14 L282.73 160.86 L282.73 163.43 L280.98 165.14 L278.36 166 L274.86 166 L272.23 165.14 L270.49 163.43 M288.2 154 L293.45 166 M298.69 154 L293.45 166 M305.04 152.29 L305.04 151.43 L305.91 149.72 L306.79 148.86 L308.54 148 L312.03 148 L313.78 148.86 L314.66 149.72 L315.53 151.43 L315.53 153.15 L314.66 154.86 L312.91 157.43 L304.17 166 L316.41 166 M339.53 148 L343.9 166 M348.27 148 L343.9 166 M348.27 148 L352.64 166 M357.01 148 L352.64 166 M362.67 159.14 L373.16 159.14 L373.16 157.43 L372.29 155.72 L371.41 154.86 L369.66 154 L367.04 154 L365.29 154.86 L363.54 156.57 L362.67 159.14 L362.67 160.86 L363.54 163.43 L365.29 165.14 L367.04 166 L369.66 166 L371.41 165.14 L373.16 163.43 M379.51 159.14 L390 159.14 L390 157.43 L389.13 155.72 L388.25 154.86 L386.5 154 L383.88 154 L382.13 154.86 L380.38 156.57 L379.51 159.14 L379.51 160.86 L380.38 163.43 L382.13 165.14 L383.88 166 L386.5 166 L388.25 165.14 L390 163.43 M397.22 148 L397.22 166 M405.97 154 L397.22 162.57 M400.72 159.14 L406.84 166 M413.37 158.29 L429.11 158.29 M437.51 152.29 L437.51 151.43 L438.39 149.72 L439.26 148.86 L441.01 148 L444.51 148 L446.26 148.86 L447.13 149.72 L448 151.43 L448 153.15 L447.13 154.86 L445.38 157.43 L436.64 166 L448.88 166 M473.62 148 L473.62 166 M473.62 148 L484.99 148 M473.62 156.57 L480.62 156.57 M493.9 154 L492.15 154.86 L490.4 156.57 L489.53 159.14 L489.53 160.86 L490.4 163.43 L492.15 165.14 L493.9 166 L496.52 166 L498.27 165.14 L500.02 163.43 L500.89 160.86 L500.89 159.14 L500.02 156.57 L498.27 154.86 L496.52 154 L493.9 154 M508.06 154 L508.06 166 M508.06 159.14 L508.93 156.57 L510.68 154.86 L512.43 154 L515.05 154 M519.47 159.14 L529.96 159.14 L529.96 157.43 L529.08 155.72 L528.21 154.86 L526.46 154 L523.84 154 L522.09 154.86 L520.34 156.57 L519.47 159.14 L519.47 160.86 L520.34 163.43 L522.09 165.14 L523.84 166 L526.46 166 L528.21 165.14 L529.96 163.43 M546.8 156.57 L545.05 154.86 L543.3 154 L540.68 154 L538.93 154.86 L537.18 156.57 L536.31 159.14 L536.31 160.86 L537.18 163.43 L538.93 165.14 L540.68 166 L543.3 166 L545.05 165.14 L546.8 163.43 M563.64 154 L563.64 166 M563.64 156.57 L561.89 154.86 L560.14 154 L557.52 154 L555.77 154.86 L554.02 156.57 L553.15 159.14 L553.15 160.86 L554.02 163.43 L555.77 165.14 L557.52 166 L560.14 166 L561.89 165.14 L563.64 163.43 M580.48 156.57 L579.6 154.86 L576.98 154 L574.36 154 L571.73 154.86 L570.86 156.57 L571.73 158.29 L573.48 159.14 L577.85 160 L579.6 160.86 L580.48 162.57 L580.48 163.43 L579.6 165.14 L576.98 166 L574.36 166 L571.73 165.14 L570.86 163.43 M588.33 148 L588.33 162.57 L589.2 165.14 L590.95 166 L592.7 166 M585.71 154 L591.83 154" fill="none" stroke="#000" stroke-width="2" stroke-linecap="square" stroke-linejoin="miter"/>
<path d="M1099.8 148 L1106.79 166 M1113.78 148 L1106.79 166 M1118.37 159.14 L1128.85 159.14 L1128.85 157.43 L1127.98 155.72 L1127.11 154.86 L1125.36 154 L1122.74 154 L1120.99 154.86 L1119.24 156.57 L1118.37 159.14 L1118.37 160.86 L1119.24 163.43 L1120.99 165.14 L1122.74 166 L1125.36 166 L1127.11 165.14 L1128.85 163.43 M1135.94 154 L1135.94 166 M1135.94 159.14 L1136.82 156.57 L1138.57 154.86 L1140.31 154 L1142.93 154 M1147.04 148 L1147.91 148.86 L1148.78 148 L1147.91 147.15 L1147.04 148 M1147.91 154 L1147.91 166 M1160.69 148 L1158.94 148 L1157.2 148.86 L1156.32 151.43 L1156.32 166 M1153.7 154 L1159.82 154 M1165.73 148 L1166.6 148.86 L1167.48 148 L1166.6 147.15 L1165.73 148 M1166.6 154 L1166.6 166 M1183.99 156.57 L1182.25 154.86 L1180.5 154 L1177.88 154 L1176.13 154.86 L1174.39 156.57 L1173.51 159.14 L1173.51 160.86 L1174.39 163.43 L1176.13 165.14 L1177.88 166 L1180.5 166 L1182.25 165.14 L1183.99 163.43 M1200.82 154 L1200.82 166 M1200.82 156.57 L1199.07 154.86 L1197.32 154 L1194.7 154 L1192.96 154.86 L1191.21 156.57 L1190.34 159.14 L1190.34 160.86 L1191.21 163.43 L1192.96 165.14 L1194.7 166 L1197.32 166 L1199.07 165.14 L1200.82 163.43 M1209.6 148 L1209.6 162.57 L1210.47 165.14 L1212.22 166 L1213.96 166 M1206.98 154 L1213.09 154 M1219 148 L1219.88 148.86 L1220.75 148 L1219.88 147.15 L1219 148 M1219.88 154 L1219.88 166 M1231.15 154 L1229.41 154.86 L1227.66 156.57 L1226.79 159.14 L1226.79 160.86 L1227.66 163.43 L1229.41 165.14 L1231.15 166 L1233.77 166 L1235.52 165.14 L1237.27 163.43 L1238.14 160.86 L1238.14 159.14 L1237.27 156.57 L1235.52 154.86 L1233.77 154 L1231.15 154 M1245.42 154 L1245.42 166 M1245.42 157.43 L1248.04 154.86 L1249.79 154 L1252.41 154 L1254.15 154.86 L1255.03 157.43 L1255.03 166 M1263.8 154 L1262.93 154.86 L1263.8 155.72 L1264.68 154.86 L1263.8 154 M1263.8 164.29 L1262.93 165.14 L1263.8 166 L1264.68 165.14 L1263.8 164.29 M1302.2 152.29 L1301.32 150.57 L1299.58 148.86 L1297.83 148 L1294.33 148 L1292.59 148.86 L1290.84 150.57 L1289.97 152.29 L1289.09 154.86 L1289.09 159.14 L1289.97 161.72 L1290.84 163.43 L1292.59 165.14 L1294.33 166 L1297.83 166 L1299.58 165.14 L1301.32 163.43 L1302.2 161.72 M1309.59 148 L1309.59 166 M1309.59 148 L1320.95 148 M1309.59 156.57 L1316.58 156.57 M1337.77 150.57 L1336.03 148.86 L1333.41 148 L1329.91 148 L1327.29 148.86 L1325.54 150.57 L1325.54 152.29 L1326.42 154 L1327.29 154.86 L1329.04 155.72 L1334.28 157.43 L1336.03 158.29 L1336.9 159.14 L1337.77 160.86 L1337.77 163.43 L1336.03 165.14 L1333.41 166 L1329.91 166 L1327.29 165.14 L1325.54 163.43 M1345.17 148 L1345.17 166 M1345.17 148 L1353.03 148 L1355.65 148.86 L1356.53 149.72 L1357.4 151.43 L1357.4 153.15 L1356.53 154.86 L1355.65 155.72 L1353.03 156.57 L1345.17 156.57 M1351.29 156.57 L1357.4 166" fill="none" stroke="#000" stroke-width="2" stroke-linecap="square" stroke-linejoin="miter"/>
<path d="M386.07 198 L386.07 216 M380 198 L392.14 198 M400.98 204 L399.24 204.86 L397.51 206.57 L396.64 209.14 L396.64 210.86 L397.51 213.43 L399.24 215.14 L400.98 216 L403.58 216 L405.31 215.14 L407.05 213.43 L407.91 210.86 L407.91 209.14 L407.05 206.57 L405.31 204.86 L403.58 204 L400.98 204 M415.76 198 L415.76 212.57 L416.63 215.14 L418.36 216 L420.1 216 M413.16 204 L419.23 204 M435.81 204 L435.81 216 M435.81 206.57 L434.08 204.86 L432.34 204 L429.74 204 L428.01 204.86 L426.27 206.57 L425.41 209.14 L425.41 210.86 L426.27 213.43 L428.01 215.14 L429.74 216 L432.34 216 L434.08 215.14 L435.81 213.43 M443.6 198 L443.6 216" fill="none" stroke="#1E3CFF" stroke-width="2" stroke-linecap="square" stroke-linejoin="miter"/>
<path d="M1203.08 198 L1203.08 216 M1197 198 L1209.16 198 M1218.01 204 L1216.27 204.86 L1214.54 206.57 L1213.67 209.14 L1213.67 210.86 L1214.54 213.43 L1216.27 215.14 L1218.01 216 L1220.62 216 L1222.35 215.14 L1224.09 213.43 L1224.96 210.86 L1224.96 209.14 L1224.09 206.57 L1222.35 204.86 L1220.62 204 L1218.01 204 M1232.82 198 L1232.82 212.57 L1233.69 215.14 L1235.42 216 L1237.16 216 M1230.21 204 L1236.29 204 M1252.9 204 L1252.9 216 M1252.9 206.57 L1251.16 204.86 L1249.43 204 L1246.82 204 L1245.08 204.86 L1243.35 206.57 L1242.48 209.14 L1242.48 210.86 L1243.35 213.43 L1245.08 215.14 L1246.82 216 L1249.43 216 L1251.16 215.14 L1252.9 213.43 M1260.7 198 L1260.7 216" fill="none" stroke="#1E3CFF" stroke-width="2" stroke-linecap="square" stroke-linejoin="miter"/>
<path d="M359.99 721 L353 739 M359.99 721 L366.99 739 M355.62 733 L364.36 733 M372.46 727 L372.46 739 M372.46 730.43 L375.08 727.86 L376.83 727 L379.45 727 L381.2 727.86 L382.08 730.43 L382.08 739 M393.73 727 L391.98 727.86 L390.23 729.57 L389.36 732.14 L389.36 733.86 L390.23 736.43 L391.98 738.14 L393.73 739 L396.35 739 L398.1 738.14 L399.85 736.43 L400.72 733.86 L400.72 732.14 L399.85 729.57 L398.1 727.86 L396.35 727 L393.73 727 M408.37 727 L408.37 739 M408.37 730.43 L410.99 727.86 L412.74 727 L415.36 727 L417.11 727.86 L417.99 730.43 L417.99 739 M417.99 730.43 L420.61 727.86 L422.36 727 L424.98 727 L426.73 727.86 L427.6 730.43 L427.6 739 M445.68 727 L445.68 739 M445.68 729.57 L443.93 727.86 L442.18 727 L439.56 727 L437.81 727.86 L436.06 729.57 L435.19 732.14 L435.19 733.86 L436.06 736.43 L437.81 738.14 L439.56 739 L442.18 739 L443.93 738.14 L445.68 736.43 M453.53 721 L453.53 739 M459.51 727 L464.75 739 M470 727 L464.75 739 L463.01 742.43 L461.26 744.14 L459.51 745 L458.64 745" fill="none" stroke="#1E3CFF" stroke-width="2" stroke-linecap="square" stroke-linejoin="miter"/>
<path d="M1176.99 721 L1170 739 M1176.99 721 L1183.99 739 M1172.62 733 L1181.36 733 M1189.46 727 L1189.46 739 M1189.46 730.43 L1192.08 727.86 L1193.83 727 L1196.45 727 L1198.2 727.86 L1199.08 730.43 L1199.08 739 M1210.73 727 L1208.98 727.86 L1207.23 729.57 L1206.36 732.14 L1206.36 733.86 L1207.23 736.43 L1208.98 738.14 L1210.73 739 L1213.35 739 L1215.1 738.14 L1216.85 736.43 L1217.72 733.86 L1217.72 732.14 L1216.85 729.57 L1215.1 727.86 L1213.35 727 L1210.73 727 M1225.37 727 L1225.37 739 M1225.37 730.43 L1227.99 727.86 L1229.74 727 L1232.36 727 L1234.11 727.86 L1234.99 730.43 L1234.99 739 M1234.99 730.43 L1237.61 727.86 L1239.36 727 L1241.98 727 L1243.73 727.86 L1244.6 730.43 L1244.6 739 M1262.68 727 L1262.68 739 M1262.68 729.57 L1260.93 727.86 L1259.18 727 L1256.56 727 L1254.81 727.86 L1253.06 729.57 L1252.19 732.14 L1252.19 733.86 L1253.06 736.43 L1254.81 738.14 L1256.56 739 L1259.18 739 L1260.93 738.14 L1262.68 736.43 M1270.53 721 L1270.53 739 M1276.51 727 L1281.75 739 M1287 727 L1281.75 739 L1280.01 742.43 L1278.26 744.14 L1276.51 745 L1275.64 745" fill="none" stroke="#1E3CFF" stroke-width="2" stroke-linecap="square" stroke-linejoin="miter"/>
<g transform="translate(0,0)">
<g clip-path="url(#pc)">
<polygon fill="#FFE878" points="338.8,509.6 347,498.4 354,494 366,481 378,470 392,459 404,455 420,453 434,453 448,453.6 458,448 470,440 478,432 486,423 490,418.4 498,413.6 504,412.4 510,414 520,418.4 530,420.4 538,419.6 546,417.6 554,417 564,419 574,422.4 584,427 594,432 604,437 614,443 622,448 630,451.6 638,450.4 646,447 652,442 658,440 662,439.2 662,516 642,516.6 630,516.4 616,515.6 606,515 596,513 588,510 580,506 574,502 568,496 562,491 556,488 550,486.4 540,485.4 530,485 518,485.6 506,487 496,488 486,487.6 478,485 470,481 462,476 456,471 450,467 444,466 436,467.6 428,472 418,479 408,486 400,492 394,496 390,501 385,512 380,522 371.4,533.6 362.2,541.2 350.4,524.6"/>
<use href="#coast"/>
</g>
<rect x="151" y="240" width="507" height="405" fill="none" stroke="#000" stroke-width="2"/>
<path d="M146 274.5 H150 M146 342.5 H150 M146 409.5 H150 M146 477.5 H150 M146 544.5 H150 M146 612.5 H150 M151.5 646 V652 M264.5 646 V652 M376.5 646 V652 M489.5 646 V652 M601.5 646 V652" stroke="#000" stroke-width="1" fill="none"/>
<path d="M112.19 267.98 L110.7 268.6 L110.2 269.84 L110.2 271.08 L110.7 272.32 L111.69 272.94 L113.68 273.56 L115.17 274.18 L116.17 275.42 L116.67 276.66 L116.67 278.52 L116.17 279.76 L115.67 280.38 L114.18 281 L112.19 281 L110.7 280.38 L110.2 279.76 L109.7 278.52 L109.7 276.66 L110.2 275.42 L111.19 274.18 L112.69 273.56 L114.68 272.94 L115.67 272.32 L116.17 271.08 L116.17 269.84 L115.67 268.6 L114.18 267.98 L112.19 267.98 M123.34 267.98 L121.84 268.6 L120.85 270.46 L120.35 273.56 L120.35 275.42 L120.85 278.52 L121.84 280.38 L123.34 281 L124.33 281 L125.82 280.38 L126.82 278.52 L127.32 275.42 L127.32 273.56 L126.82 270.46 L125.82 268.6 L124.33 267.98 L123.34 267.98 M131.53 267.98 L131.53 281 M131.53 267.98 L138.5 281 M138.5 267.98 L138.5 281" fill="none" stroke="#000" stroke-width="1" stroke-linecap="square" stroke-linejoin="miter"/>
<path d="M116.67 335.53 L111.69 348.55 M109.7 335.53 L116.67 335.53 M123.34 335.53 L121.84 336.15 L120.85 338.01 L120.35 341.11 L120.35 342.97 L120.85 346.07 L121.84 347.93 L123.34 348.55 L124.33 348.55 L125.82 347.93 L126.82 346.07 L127.32 342.97 L127.32 341.11 L126.82 338.01 L125.82 336.15 L124.33 335.53 L123.34 335.53 M131.53 335.53 L131.53 348.55 M131.53 335.53 L138.5 348.55 M138.5 335.53 L138.5 348.55" fill="none" stroke="#000" stroke-width="1" stroke-linecap="square" stroke-linejoin="miter"/>
<path d="M115.78 404.94 L115.27 403.7 L113.75 403.08 L112.74 403.08 L111.22 403.7 L110.21 405.56 L109.7 408.66 L109.7 411.76 L110.21 414.24 L111.22 415.48 L112.74 416.1 L113.24 416.1 L114.76 415.48 L115.78 414.24 L116.28 412.38 L116.28 411.76 L115.78 409.9 L114.76 408.66 L113.24 408.04 L112.74 408.04 L111.22 408.66 L110.21 409.9 L109.7 411.76 M123.07 403.08 L121.55 403.7 L120.54 405.56 L120.03 408.66 L120.03 410.52 L120.54 413.62 L121.55 415.48 L123.07 416.1 L124.08 416.1 L125.6 415.48 L126.61 413.62 L127.12 410.52 L127.12 408.66 L126.61 405.56 L125.6 403.7 L124.08 403.08 L123.07 403.08 M131.41 403.08 L131.41 416.1 M131.41 403.08 L138.5 416.1 M138.5 403.08 L138.5 416.1" fill="none" stroke="#000" stroke-width="1" stroke-linecap="square" stroke-linejoin="miter"/>
<path d="M115.67 470.63 L110.7 470.63 L110.2 476.21 L110.7 475.59 L112.19 474.97 L113.68 474.97 L115.17 475.59 L116.17 476.83 L116.67 478.69 L116.67 479.93 L116.17 481.79 L115.17 483.03 L113.68 483.65 L112.19 483.65 L110.7 483.03 L110.2 482.41 L109.7 481.17 M123.34 470.63 L121.84 471.25 L120.85 473.11 L120.35 476.21 L120.35 478.07 L120.85 481.17 L121.84 483.03 L123.34 483.65 L124.33 483.65 L125.82 483.03 L126.82 481.17 L127.32 478.07 L127.32 476.21 L126.82 473.11 L125.82 471.25 L124.33 470.63 L123.34 470.63 M131.53 470.63 L131.53 483.65 M131.53 470.63 L138.5 483.65 M138.5 470.63 L138.5 483.65" fill="none" stroke="#000" stroke-width="1" stroke-linecap="square" stroke-linejoin="miter"/>
<path d="M114.68 538.18 L109.7 546.86 L117.17 546.86 M114.68 538.18 L114.68 551.2 M123.34 538.18 L121.84 538.8 L120.85 540.66 L120.35 543.76 L120.35 545.62 L120.85 548.72 L121.84 550.58 L123.34 551.2 L124.33 551.2 L125.82 550.58 L126.82 548.72 L127.32 545.62 L127.32 543.76 L126.82 540.66 L125.82 538.8 L124.33 538.18 L123.34 538.18 M131.53 538.18 L131.53 551.2 M131.53 538.18 L138.5 551.2 M138.5 538.18 L138.5 551.2" fill="none" stroke="#000" stroke-width="1" stroke-linecap="square" stroke-linejoin="miter"/>
<path d="M110.7 605.73 L116.17 605.73 L113.18 610.69 L114.68 610.69 L115.67 611.31 L116.17 611.93 L116.67 613.79 L116.67 615.03 L116.17 616.89 L115.17 618.13 L113.68 618.75 L112.19 618.75 L110.7 618.13 L110.2 617.51 L109.7 616.27 M123.34 605.73 L121.84 606.35 L120.85 608.21 L120.35 611.31 L120.35 613.17 L120.85 616.27 L121.84 618.13 L123.34 618.75 L124.33 618.75 L125.82 618.13 L126.82 616.27 L127.32 613.17 L127.32 611.31 L126.82 608.21 L125.82 606.35 L124.33 605.73 L123.34 605.73 M131.53 605.73 L131.53 618.75 M131.53 605.73 L138.5 618.75 M138.5 605.73 L138.5 618.75" fill="none" stroke="#000" stroke-width="1" stroke-linecap="square" stroke-linejoin="miter"/>
<path d="M132.3 658.26 L133.32 657.64 L134.85 655.78 L134.85 668.8 M146.79 655.78 L141.69 664.46 L149.35 664.46 M146.79 655.78 L146.79 668.8 M155.67 655.78 L154.14 656.4 L153.12 658.26 L152.61 661.36 L152.61 663.22 L153.12 666.32 L154.14 668.18 L155.67 668.8 L156.69 668.8 L158.22 668.18 L159.25 666.32 L159.76 663.22 L159.76 661.36 L159.25 658.26 L158.22 656.4 L156.69 655.78 L155.67 655.78 M163.09 655.78 L165.65 668.8 M168.2 655.78 L165.65 668.8 M168.2 655.78 L170.75 668.8 M173.3 655.78 L170.75 668.8" fill="none" stroke="#000" stroke-width="1" stroke-linecap="square" stroke-linejoin="miter"/>
<path d="M244.9 658.26 L245.92 657.64 L247.45 655.78 L247.45 668.8 M254.8 658.88 L254.8 658.26 L255.31 657.02 L255.82 656.4 L256.84 655.78 L258.88 655.78 L259.9 656.4 L260.41 657.02 L260.92 658.26 L260.92 659.5 L260.41 660.74 L259.39 662.6 L254.29 668.8 L261.43 668.8 M268.27 655.78 L266.74 656.4 L265.72 658.26 L265.21 661.36 L265.21 663.22 L265.72 666.32 L266.74 668.18 L268.27 668.8 L269.29 668.8 L270.82 668.18 L271.85 666.32 L272.36 663.22 L272.36 661.36 L271.85 658.26 L270.82 656.4 L269.29 655.78 L268.27 655.78 M275.69 655.78 L278.25 668.8 M280.8 655.78 L278.25 668.8 M280.8 655.78 L283.35 668.8 M285.9 655.78 L283.35 668.8" fill="none" stroke="#000" stroke-width="1" stroke-linecap="square" stroke-linejoin="miter"/>
<path d="M357.5 658.26 L358.52 657.64 L360.05 655.78 L360.05 668.8 M369.95 655.78 L368.42 656.4 L367.4 658.26 L366.89 661.36 L366.89 663.22 L367.4 666.32 L368.42 668.18 L369.95 668.8 L370.97 668.8 L372.5 668.18 L373.52 666.32 L374.03 663.22 L374.03 661.36 L373.52 658.26 L372.5 656.4 L370.97 655.78 L369.95 655.78 M380.87 655.78 L379.34 656.4 L378.32 658.26 L377.81 661.36 L377.81 663.22 L378.32 666.32 L379.34 668.18 L380.87 668.8 L381.89 668.8 L383.42 668.18 L384.45 666.32 L384.96 663.22 L384.96 661.36 L384.45 658.26 L383.42 656.4 L381.89 655.78 L380.87 655.78 M388.29 655.78 L390.85 668.8 M393.4 655.78 L390.85 668.8 M393.4 655.78 L395.95 668.8 M398.5 655.78 L395.95 668.8" fill="none" stroke="#000" stroke-width="1" stroke-linecap="square" stroke-linejoin="miter"/>
<path d="M476.11 655.78 L474.57 656.4 L474.06 657.64 L474.06 658.88 L474.57 660.12 L475.6 660.74 L477.64 661.36 L479.18 661.98 L480.2 663.22 L480.71 664.46 L480.71 666.32 L480.2 667.56 L479.69 668.18 L478.16 668.8 L476.11 668.8 L474.57 668.18 L474.06 667.56 L473.55 666.32 L473.55 664.46 L474.06 663.22 L475.09 661.98 L476.62 661.36 L478.67 660.74 L479.69 660.12 L480.2 658.88 L480.2 657.64 L479.69 656.4 L478.16 655.78 L476.11 655.78 M487.57 655.78 L486.04 656.4 L485.01 658.26 L484.5 661.36 L484.5 663.22 L485.01 666.32 L486.04 668.18 L487.57 668.8 L488.6 668.8 L490.13 668.18 L491.16 666.32 L491.67 663.22 L491.67 661.36 L491.16 658.26 L490.13 656.4 L488.6 655.78 L487.57 655.78 M495.01 655.78 L497.57 668.8 M500.13 655.78 L497.57 668.8 M500.13 655.78 L502.69 668.8 M505.25 655.78 L502.69 668.8" fill="none" stroke="#000" stroke-width="1" stroke-linecap="square" stroke-linejoin="miter"/>
<path d="M592.39 657.64 L591.87 656.4 L590.31 655.78 L589.27 655.78 L587.71 656.4 L586.67 658.26 L586.15 661.36 L586.15 664.46 L586.67 666.94 L587.71 668.18 L589.27 668.8 L589.79 668.8 L591.35 668.18 L592.39 666.94 L592.91 665.08 L592.91 664.46 L592.39 662.6 L591.35 661.36 L589.79 660.74 L589.27 660.74 L587.71 661.36 L586.67 662.6 L586.15 664.46 M599.88 655.78 L598.32 656.4 L597.28 658.26 L596.76 661.36 L596.76 663.22 L597.28 666.32 L598.32 668.18 L599.88 668.8 L600.92 668.8 L602.48 668.18 L603.52 666.32 L604.04 663.22 L604.04 661.36 L603.52 658.26 L602.48 656.4 L600.92 655.78 L599.88 655.78 M607.45 655.78 L610.05 668.8 M612.65 655.78 L610.05 668.8 M612.65 655.78 L615.25 668.8 M617.85 655.78 L615.25 668.8" fill="none" stroke="#000" stroke-width="1" stroke-linecap="square" stroke-linejoin="miter"/>
</g>
<g transform="translate(855,0)">
<g clip-path="url(#pc)">
<polygon fill="#FFE878" points="150,438 166,438 173,440.5 181,444 184,449 187,454 190,459.5 186.5,464 181,468.5 173,471 164,474.5 155,478.5 150,479.2"/>
<polygon fill="#FFE878" points="310.7,458.94 319.67,447.28 327.52,442.79 328.19,425.97 339.85,418.13 353.31,408.03 371.25,402.43 389.19,401.98 407.13,402.43 425.07,403.55 438.53,405.79 451.99,409.15 463.2,408.71 474.41,404.67 483.38,399.06 492.35,394.58 501.32,393.01 519.27,394.58 537.21,397.94 555.15,399.06 570.85,399.06 579.82,394.58 588.79,390.09 602.24,387.4 617.94,387.85 631.4,393.46 641.49,402.43 644.85,409.15 644.85,423.73 653.82,425.97 662.8,425.97 662.8,508.28 659.43,507.83 643.73,502.9 640.37,496.62 641.49,489.89 638.13,483.61 640.37,477.56 631.4,473.07 624.67,468.58 608.97,463.43 593.27,460.74 575.33,460.29 559.63,461.86 543.93,469.71 532.72,476.43 541.69,482.04 552.91,491.01 561.88,498.86 567.48,504.47 575.33,507.38 568.6,511.2 557.39,516.8 546.18,523.08 537.21,525.77 523.75,526.89 508.05,526.22 496.84,525.77 487.87,526.89 478.9,529.81 469.93,531.38 458.71,529.14 451.99,529.14 440.77,531.38 429.56,533.62 418.35,538.11 407.13,545.51 395.92,553.81 384.71,562.78 373.49,570.63 362.28,576.91 354.43,568.38 347.7,560.53 343.22,548.2 340.97,541.47 333.13,532.5 327.52,525.77 325.28,512.32 333.13,501.1 339.85,492.13 346.58,485.4 352.19,477.56 343.22,474.19 333.13,471.95 321.91,467.46"/>
<polygon fill="#FFA000" points="352.19,508.95 366.76,498.86 384.71,485.4 398.16,476.43 411.62,466.34 422.83,458.49 434.04,453.56 451.99,453.56 465.44,454.46 478.9,455.13 491.23,457.37 490.11,464.1 486.75,469.71 481.14,478.68 474.41,487.65 468.81,494.38 465.44,501.1 474.41,502.9 485.63,502.22 496.84,501.1 505.81,501.55 513.66,504.47 521.51,508.95 517.02,511.2 505.81,512.32 494.6,512.77 485.63,512.32 474.41,511.2 467.68,510.07 460.96,507.83 451.99,508.95 440.77,512.32 429.56,515.68 418.35,521.29 407.13,528.02 395.92,536.99 384.71,545.96 373.49,553.81 362.28,560.09 358.92,552.68 356.67,541.47 354.43,525.77"/>
<polygon fill="#FF6000" points="380.22,509.63 391.43,502.22 406.01,502.22 406.68,511.2 391.43,520.17 385.83,515.68"/>
<use href="#coast"/>
</g>
<rect x="151" y="240" width="507" height="405" fill="none" stroke="#000" stroke-width="2"/>
<path d="M146 274.5 H150 M146 342.5 H150 M146 409.5 H150 M146 477.5 H150 M146 544.5 H150 M146 612.5 H150 M151.5 646 V652 M264.5 646 V652 M376.5 646 V652 M489.5 646 V652 M601.5 646 V652" stroke="#000" stroke-width="1" fill="none"/>
<path d="M112.19 267.98 L110.7 268.6 L110.2 269.84 L110.2 271.08 L110.7 272.32 L111.69 272.94 L113.68 273.56 L115.17 274.18 L116.17 275.42 L116.67 276.66 L116.67 278.52 L116.17 279.76 L115.67 280.38 L114.18 281 L112.19 281 L110.7 280.38 L110.2 279.76 L109.7 278.52 L109.7 276.66 L110.2 275.42 L111.19 274.18 L112.69 273.56 L114.68 272.94 L115.67 272.32 L116.17 271.08 L116.17 269.84 L115.67 268.6 L114.18 267.98 L112.19 267.98 M123.34 267.98 L121.84 268.6 L120.85 270.46 L120.35 273.56 L120.35 275.42 L120.85 278.52 L121.84 280.38 L123.34 281 L124.33 281 L125.82 280.38 L126.82 278.52 L127.32 275.42 L127.32 273.56 L126.82 270.46 L125.82 268.6 L124.33 267.98 L123.34 267.98 M131.53 267.98 L131.53 281 M131.53 267.98 L138.5 281 M138.5 267.98 L138.5 281" fill="none" stroke="#000" stroke-width="1" stroke-linecap="square" stroke-linejoin="miter"/>
<path d="M116.67 335.53 L111.69 348.55 M109.7 335.53 L116.67 335.53 M123.34 335.53 L121.84 336.15 L120.85 338.01 L120.35 341.11 L120.35 342.97 L120.85 346.07 L121.84 347.93 L123.34 348.55 L124.33 348.55 L125.82 347.93 L126.82 346.07 L127.32 342.97 L127.32 341.11 L126.82 338.01 L125.82 336.15 L124.33 335.53 L123.34 335.53 M131.53 335.53 L131.53 348.55 M131.53 335.53 L138.5 348.55 M138.5 335.53 L138.5 348.55" fill="none" stroke="#000" stroke-width="1" stroke-linecap="square" stroke-linejoin="miter"/>
<path d="M115.78 404.94 L115.27 403.7 L113.75 403.08 L112.74 403.08 L111.22 403.7 L110.21 405.56 L109.7 408.66 L109.7 411.76 L110.21 414.24 L111.22 415.48 L112.74 416.1 L113.24 416.1 L114.76 415.48 L115.78 414.24 L116.28 412.38 L116.28 411.76 L115.78 409.9 L114.76 408.66 L113.24 408.04 L112.74 408.04 L111.22 408.66 L110.21 409.9 L109.7 411.76 M123.07 403.08 L121.55 403.7 L120.54 405.56 L120.03 408.66 L120.03 410.52 L120.54 413.62 L121.55 415.48 L123.07 416.1 L124.08 416.1 L125.6 415.48 L126.61 413.62 L127.12 410.52 L127.12 408.66 L126.61 405.56 L125.6 403.7 L124.08 403.08 L123.07 403.08 M131.41 403.08 L131.41 416.1 M131.41 403.08 L138.5 416.1 M138.5 403.08 L138.5 416.1" fill="none" stroke="#000" stroke-width="1" stroke-linecap="square" stroke-linejoin="miter"/>
<path d="M115.67 470.63 L110.7 470.63 L110.2 476.21 L110.7 475.59 L112.19 474.97 L113.68 474.97 L115.17 475.59 L116.17 476.83 L116.67 478.69 L116.67 479.93 L116.17 481.79 L115.17 483.03 L113.68 483.65 L112.19 483.65 L110.7 483.03 L110.2 482.41 L109.7 481.17 M123.34 470.63 L121.84 471.25 L120.85 473.11 L120.35 476.21 L120.35 478.07 L120.85 481.17 L121.84 483.03 L123.34 483.65 L124.33 483.65 L125.82 483.03 L126.82 481.17 L127.32 478.07 L127.32 476.21 L126.82 473.11 L125.82 471.25 L124.33 470.63 L123.34 470.63 M131.53 470.63 L131.53 483.65 M131.53 470.63 L138.5 483.65 M138.5 470.63 L138.5 483.65" fill="none" stroke="#000" stroke-width="1" stroke-linecap="square" stroke-linejoin="miter"/>
<path d="M114.68 538.18 L109.7 546.86 L117.17 546.86 M114.68 538.18 L114.68 551.2 M123.34 538.18 L121.84 538.8 L120.85 540.66 L120.35 543.76 L120.35 545.62 L120.85 548.72 L121.84 550.58 L123.34 551.2 L124.33 551.2 L125.82 550.58 L126.82 548.72 L127.32 545.62 L127.32 543.76 L126.82 540.66 L125.82 538.8 L124.33 538.18 L123.34 538.18 M131.53 538.18 L131.53 551.2 M131.53 538.18 L138.5 551.2 M138.5 538.18 L138.5 551.2" fill="none" stroke="#000" stroke-width="1" stroke-linecap="square" stroke-linejoin="miter"/>
<path d="M110.7 605.73 L116.17 605.73 L113.18 610.69 L114.68 610.69 L115.67 611.31 L116.17 611.93 L116.67 613.79 L116.67 615.03 L116.17 616.89 L115.17 618.13 L113.68 618.75 L112.19 618.75 L110.7 618.13 L110.2 617.51 L109.7 616.27 M123.34 605.73 L121.84 606.35 L120.85 608.21 L120.35 611.31 L120.35 613.17 L120.85 616.27 L121.84 618.13 L123.34 618.75 L124.33 618.75 L125.82 618.13 L126.82 616.27 L127.32 613.17 L127.32 611.31 L126.82 608.21 L125.82 606.35 L124.33 605.73 L123.34 605.73 M131.53 605.73 L131.53 618.75 M131.53 605.73 L138.5 618.75 M138.5 605.73 L138.5 618.75" fill="none" stroke="#000" stroke-width="1" stroke-linecap="square" stroke-linejoin="miter"/>
<path d="M132.3 658.26 L133.32 657.64 L134.85 655.78 L134.85 668.8 M146.79 655.78 L141.69 664.46 L149.35 664.46 M146.79 655.78 L146.79 668.8 M155.67 655.78 L154.14 656.4 L153.12 658.26 L152.61 661.36 L152.61 663.22 L153.12 666.32 L154.14 668.18 L155.67 668.8 L156.69 668.8 L158.22 668.18 L159.25 666.32 L159.76 663.22 L159.76 661.36 L159.25 658.26 L158.22 656.4 L156.69 655.78 L155.67 655.78 M163.09 655.78 L165.65 668.8 M168.2 655.78 L165.65 668.8 M168.2 655.78 L170.75 668.8 M173.3 655.78 L170.75 668.8" fill="none" stroke="#000" stroke-width="1" stroke-linecap="square" stroke-linejoin="miter"/>
<path d="M244.9 658.26 L245.92 657.64 L247.45 655.78 L247.45 668.8 M254.8 658.88 L254.8 658.26 L255.31 657.02 L255.82 656.4 L256.84 655.78 L258.88 655.78 L259.9 656.4 L260.41 657.02 L260.92 658.26 L260.92 659.5 L260.41 660.74 L259.39 662.6 L254.29 668.8 L261.43 668.8 M268.27 655.78 L266.74 656.4 L265.72 658.26 L265.21 661.36 L265.21 663.22 L265.72 666.32 L266.74 668.18 L268.27 668.8 L269.29 668.8 L270.82 668.18 L271.85 666.32 L272.36 663.22 L272.36 661.36 L271.85 658.26 L270.82 656.4 L269.29 655.78 L268.27 655.78 M275.69 655.78 L278.25 668.8 M280.8 655.78 L278.25 668.8 M280.8 655.78 L283.35 668.8 M285.9 655.78 L283.35 668.8" fill="none" stroke="#000" stroke-width="1" stroke-linecap="square" stroke-linejoin="miter"/>
<path d="M357.5 658.26 L358.52 657.64 L360.05 655.78 L360.05 668.8 M369.95 655.78 L368.42 656.4 L367.4 658.26 L366.89 661.36 L366.89 663.22 L367.4 666.32 L368.42 668.18 L369.95 668.8 L370.97 668.8 L372.5 668.18 L373.52 666.32 L374.03 663.22 L374.03 661.36 L373.52 658.26 L372.5 656.4 L370.97 655.78 L369.95 655.78 M380.87 655.78 L379.34 656.4 L378.32 658.26 L377.81 661.36 L377.81 663.22 L378.32 666.32 L379.34 668.18 L380.87 668.8 L381.89 668.8 L383.42 668.18 L384.45 666.32 L384.96 663.22 L384.96 661.36 L384.45 658.26 L383.42 656.4 L381.89 655.78 L380.87 655.78 M388.29 655.78 L390.85 668.8 M393.4 655.78 L390.85 668.8 M393.4 655.78 L395.95 668.8 M398.5 655.78 L395.95 668.8" fill="none" stroke="#000" stroke-width="1" stroke-linecap="square" stroke-linejoin="miter"/>
<path d="M476.11 655.78 L474.57 656.4 L474.06 657.64 L474.06 658.88 L474.57 660.12 L475.6 660.74 L477.64 661.36 L479.18 661.98 L480.2 663.22 L480.71 664.46 L480.71 666.32 L480.2 667.56 L479.69 668.18 L478.16 668.8 L476.11 668.8 L474.57 668.18 L474.06 667.56 L473.55 666.32 L473.55 664.46 L474.06 663.22 L475.09 661.98 L476.62 661.36 L478.67 660.74 L479.69 660.12 L480.2 658.88 L480.2 657.64 L479.69 656.4 L478.16 655.78 L476.11 655.78 M487.57 655.78 L486.04 656.4 L485.01 658.26 L484.5 661.36 L484.5 663.22 L485.01 666.32 L486.04 668.18 L487.57 668.8 L488.6 668.8 L490.13 668.18 L491.16 666.32 L491.67 663.22 L491.67 661.36 L491.16 658.26 L490.13 656.4 L488.6 655.78 L487.57 655.78 M495.01 655.78 L497.57 668.8 M500.13 655.78 L497.57 668.8 M500.13 655.78 L502.69 668.8 M505.25 655.78 L502.69 668.8" fill="none" stroke="#000" stroke-width="1" stroke-linecap="square" stroke-linejoin="miter"/>
<path d="M592.39 657.64 L591.87 656.4 L590.31 655.78 L589.27 655.78 L587.71 656.4 L586.67 658.26 L586.15 661.36 L586.15 664.46 L586.67 666.94 L587.71 668.18 L589.27 668.8 L589.79 668.8 L591.35 668.18 L592.39 666.94 L592.91 665.08 L592.91 664.46 L592.39 662.6 L591.35 661.36 L589.79 660.74 L589.27 660.74 L587.71 661.36 L586.67 662.6 L586.15 664.46 M599.88 655.78 L598.32 656.4 L597.28 658.26 L596.76 661.36 L596.76 663.22 L597.28 666.32 L598.32 668.18 L599.88 668.8 L600.92 668.8 L602.48 668.18 L603.52 666.32 L604.04 663.22 L604.04 661.36 L603.52 658.26 L602.48 656.4 L600.92 655.78 L599.88 655.78 M607.45 655.78 L610.05 668.8 M612.65 655.78 L610.05 668.8 M612.65 655.78 L615.25 668.8 M617.85 655.78 L615.25 668.8" fill="none" stroke="#000" stroke-width="1" stroke-linecap="square" stroke-linejoin="miter"/>
</g>
<g transform="translate(0,525)">
<g clip-path="url(#pc)">
<polygon fill="#FFFAAA" points="334.43,509.71 345.46,500.16 359.24,494.86 365.61,485.31 373.03,474.7 381.52,466.22 392.13,459.85 404.85,456.67 417.58,456.25 430.31,459.43 428.19,468.34 425.01,476.82 415.46,484.25 404.85,491.67 396.37,499.1 390,508.64 383.64,521.37 378.34,531.98 374.09,544.71 362.43,554.25 355,542.59 348.64,529.86 341.21,519.25"/>
<polygon fill="#FFC03C" points="361.79,509.07 363.28,509.07 363.28,513.95 361.79,513.95"/>
<polygon fill="#E1FFFF" points="373.03,408.52 377.28,407.24 391.06,407.24 391.7,409.37 383.64,410.64 375.58,410.64"/>
<polygon fill="#FFFAAA" points="469.55,459.43 481.22,453.49 493.95,448.19 504.56,440.76 515.16,435.46 530.01,432.7 542.74,430.58 559.71,430.58 570.32,436.52 580.92,442.46 581.35,458.79 587.29,464.1 597.9,466.22 612.75,467.28 625.47,468.34 633.96,473.01 646.69,474.7 661.54,475.13 661.54,513.95 646.69,513.95 633.96,512.89 621.23,512.46 608.5,511.83 595.77,510.77 587.29,507.58 578.8,502.28 572.44,495.92 567.14,489.55 563.95,483.19 562.89,476.82 553.35,477.89 540.62,478.31 530.01,477.25 519.41,476.4 510.92,478.95 500.31,483.19 491.83,485.31 483.34,483.19 476.98,480.01 470.62,476.82 469.55,468.34"/>
<use href="#coast"/>
</g>
<rect x="151" y="240" width="507" height="405" fill="none" stroke="#000" stroke-width="2"/>
<path d="M146 274.5 H150 M146 342.5 H150 M146 409.5 H150 M146 477.5 H150 M146 544.5 H150 M146 612.5 H150 M151.5 646 V652 M264.5 646 V652 M376.5 646 V652 M489.5 646 V652 M601.5 646 V652" stroke="#000" stroke-width="1" fill="none"/>
<path d="M112.19 267.98 L110.7 268.6 L110.2 269.84 L110.2 271.08 L110.7 272.32 L111.69 272.94 L113.68 273.56 L115.17 274.18 L116.17 275.42 L116.67 276.66 L116.67 278.52 L116.17 279.76 L115.67 280.38 L114.18 281 L112.19 281 L110.7 280.38 L110.2 279.76 L109.7 278.52 L109.7 276.66 L110.2 275.42 L111.19 274.18 L112.69 273.56 L114.68 272.94 L115.67 272.32 L116.17 271.08 L116.17 269.84 L115.67 268.6 L114.18 267.98 L112.19 267.98 M123.34 267.98 L121.84 268.6 L120.85 270.46 L120.35 273.56 L120.35 275.42 L120.85 278.52 L121.84 280.38 L123.34 281 L124.33 281 L125.82 280.38 L126.82 278.52 L127.32 275.42 L127.32 273.56 L126.82 270.46 L125.82 268.6 L124.33 267.98 L123.34 267.98 M131.53 267.98 L131.53 281 M131.53 267.98 L138.5 281 M138.5 267.98 L138.5 281" fill="none" stroke="#000" stroke-width="1" stroke-linecap="square" stroke-linejoin="miter"/>
<path d="M116.67 335.53 L111.69 348.55 M109.7 335.53 L116.67 335.53 M123.34 335.53 L121.84 336.15 L120.85 338.01 L120.35 341.11 L120.35 342.97 L120.85 346.07 L121.84 347.93 L123.34 348.55 L124.33 348.55 L125.82 347.93 L126.82 346.07 L127.32 342.97 L127.32 341.11 L126.82 338.01 L125.82 336.15 L124.33 335.53 L123.34 335.53 M131.53 335.53 L131.53 348.55 M131.53 335.53 L138.5 348.55 M138.5 335.53 L138.5 348.55" fill="none" stroke="#000" stroke-width="1" stroke-linecap="square" stroke-linejoin="miter"/>
<path d="M115.78 404.94 L115.27 403.7 L113.75 403.08 L112.74 403.08 L111.22 403.7 L110.21 405.56 L109.7 408.66 L109.7 411.76 L110.21 414.24 L111.22 415.48 L112.74 416.1 L113.24 416.1 L114.76 415.48 L115.78 414.24 L116.28 412.38 L116.28 411.76 L115.78 409.9 L114.76 408.66 L113.24 408.04 L112.74 408.04 L111.22 408.66 L110.21 409.9 L109.7 411.76 M123.07 403.08 L121.55 403.7 L120.54 405.56 L120.03 408.66 L120.03 410.52 L120.54 413.62 L121.55 415.48 L123.07 416.1 L124.08 416.1 L125.6 415.48 L126.61 413.62 L127.12 410.52 L127.12 408.66 L126.61 405.56 L125.6 403.7 L124.08 403.08 L123.07 403.08 M131.41 403.08 L131.41 416.1 M131.41 403.08 L138.5 416.1 M138.5 403.08 L138.5 416.1" fill="none" stroke="#000" stroke-width="1" stroke-linecap="square" stroke-linejoin="miter"/>
<path d="M115.67 470.63 L110.7 470.63 L110.2 476.21 L110.7 475.59 L112.19 474.97 L113.68 474.97 L115.17 475.59 L116.17 476.83 L116.67 478.69 L116.67 479.93 L116.17 481.79 L115.17 483.03 L113.68 483.65 L112.19 483.65 L110.7 483.03 L110.2 482.41 L109.7 481.17 M123.34 470.63 L121.84 471.25 L120.85 473.11 L120.35 476.21 L120.35 478.07 L120.85 481.17 L121.84 483.03 L123.34 483.65 L124.33 483.65 L125.82 483.03 L126.82 481.17 L127.32 478.07 L127.32 476.21 L126.82 473.11 L125.82 471.25 L124.33 470.63 L123.34 470.63 M131.53 470.63 L131.53 483.65 M131.53 470.63 L138.5 483.65 M138.5 470.63 L138.5 483.65" fill="none" stroke="#000" stroke-width="1" stroke-linecap="square" stroke-linejoin="miter"/>
<path d="M114.68 538.18 L109.7 546.86 L117.17 546.86 M114.68 538.18 L114.68 551.2 M123.34 538.18 L121.84 538.8 L120.85 540.66 L120.35 543.76 L120.35 545.62 L120.85 548.72 L121.84 550.58 L123.34 551.2 L124.33 551.2 L125.82 550.58 L126.82 548.72 L127.32 545.62 L127.32 543.76 L126.82 540.66 L125.82 538.8 L124.33 538.18 L123.34 538.18 M131.53 538.18 L131.53 551.2 M131.53 538.18 L138.5 551.2 M138.5 538.18 L138.5 551.2" fill="none" stroke="#000" stroke-width="1" stroke-linecap="square" stroke-linejoin="miter"/>
<path d="M110.7 605.73 L116.17 605.73 L113.18 610.69 L114.68 610.69 L115.67 611.31 L116.17 611.93 L116.67 613.79 L116.67 615.03 L116.17 616.89 L115.17 618.13 L113.68 618.75 L112.19 618.75 L110.7 618.13 L110.2 617.51 L109.7 616.27 M123.34 605.73 L121.84 606.35 L120.85 608.21 L120.35 611.31 L120.35 613.17 L120.85 616.27 L121.84 618.13 L123.34 618.75 L124.33 618.75 L125.82 618.13 L126.82 616.27 L127.32 613.17 L127.32 611.31 L126.82 608.21 L125.82 606.35 L124.33 605.73 L123.34 605.73 M131.53 605.73 L131.53 618.75 M131.53 605.73 L138.5 618.75 M138.5 605.73 L138.5 618.75" fill="none" stroke="#000" stroke-width="1" stroke-linecap="square" stroke-linejoin="miter"/>
<path d="M132.3 658.26 L133.32 657.64 L134.85 655.78 L134.85 668.8 M146.79 655.78 L141.69 664.46 L149.35 664.46 M146.79 655.78 L146.79 668.8 M155.67 655.78 L154.14 656.4 L153.12 658.26 L152.61 661.36 L152.61 663.22 L153.12 666.32 L154.14 668.18 L155.67 668.8 L156.69 668.8 L158.22 668.18 L159.25 666.32 L159.76 663.22 L159.76 661.36 L159.25 658.26 L158.22 656.4 L156.69 655.78 L155.67 655.78 M163.09 655.78 L165.65 668.8 M168.2 655.78 L165.65 668.8 M168.2 655.78 L170.75 668.8 M173.3 655.78 L170.75 668.8" fill="none" stroke="#000" stroke-width="1" stroke-linecap="square" stroke-linejoin="miter"/>
<path d="M244.9 658.26 L245.92 657.64 L247.45 655.78 L247.45 668.8 M254.8 658.88 L254.8 658.26 L255.31 657.02 L255.82 656.4 L256.84 655.78 L258.88 655.78 L259.9 656.4 L260.41 657.02 L260.92 658.26 L260.92 659.5 L260.41 660.74 L259.39 662.6 L254.29 668.8 L261.43 668.8 M268.27 655.78 L266.74 656.4 L265.72 658.26 L265.21 661.36 L265.21 663.22 L265.72 666.32 L266.74 668.18 L268.27 668.8 L269.29 668.8 L270.82 668.18 L271.85 666.32 L272.36 663.22 L272.36 661.36 L271.85 658.26 L270.82 656.4 L269.29 655.78 L268.27 655.78 M275.69 655.78 L278.25 668.8 M280.8 655.78 L278.25 668.8 M280.8 655.78 L283.35 668.8 M285.9 655.78 L283.35 668.8" fill="none" stroke="#000" stroke-width="1" stroke-linecap="square" stroke-linejoin="miter"/>
<path d="M357.5 658.26 L358.52 657.64 L360.05 655.78 L360.05 668.8 M369.95 655.78 L368.42 656.4 L367.4 658.26 L366.89 661.36 L366.89 663.22 L367.4 666.32 L368.42 668.18 L369.95 668.8 L370.97 668.8 L372.5 668.18 L373.52 666.32 L374.03 663.22 L374.03 661.36 L373.52 658.26 L372.5 656.4 L370.97 655.78 L369.95 655.78 M380.87 655.78 L379.34 656.4 L378.32 658.26 L377.81 661.36 L377.81 663.22 L378.32 666.32 L379.34 668.18 L380.87 668.8 L381.89 668.8 L383.42 668.18 L384.45 666.32 L384.96 663.22 L384.96 661.36 L384.45 658.26 L383.42 656.4 L381.89 655.78 L380.87 655.78 M388.29 655.78 L390.85 668.8 M393.4 655.78 L390.85 668.8 M393.4 655.78 L395.95 668.8 M398.5 655.78 L395.95 668.8" fill="none" stroke="#000" stroke-width="1" stroke-linecap="square" stroke-linejoin="miter"/>
<path d="M476.11 655.78 L474.57 656.4 L474.06 657.64 L474.06 658.88 L474.57 660.12 L475.6 660.74 L477.64 661.36 L479.18 661.98 L480.2 663.22 L480.71 664.46 L480.71 666.32 L480.2 667.56 L479.69 668.18 L478.16 668.8 L476.11 668.8 L474.57 668.18 L474.06 667.56 L473.55 666.32 L473.55 664.46 L474.06 663.22 L475.09 661.98 L476.62 661.36 L478.67 660.74 L479.69 660.12 L480.2 658.88 L480.2 657.64 L479.69 656.4 L478.16 655.78 L476.11 655.78 M487.57 655.78 L486.04 656.4 L485.01 658.26 L484.5 661.36 L484.5 663.22 L485.01 666.32 L486.04 668.18 L487.57 668.8 L488.6 668.8 L490.13 668.18 L491.16 666.32 L491.67 663.22 L491.67 661.36 L491.16 658.26 L490.13 656.4 L488.6 655.78 L487.57 655.78 M495.01 655.78 L497.57 668.8 M500.13 655.78 L497.57 668.8 M500.13 655.78 L502.69 668.8 M505.25 655.78 L502.69 668.8" fill="none" stroke="#000" stroke-width="1" stroke-linecap="square" stroke-linejoin="miter"/>
<path d="M592.39 657.64 L591.87 656.4 L590.31 655.78 L589.27 655.78 L587.71 656.4 L586.67 658.26 L586.15 661.36 L586.15 664.46 L586.67 666.94 L587.71 668.18 L589.27 668.8 L589.79 668.8 L591.35 668.18 L592.39 666.94 L592.91 665.08 L592.91 664.46 L592.39 662.6 L591.35 661.36 L589.79 660.74 L589.27 660.74 L587.71 661.36 L586.67 662.6 L586.15 664.46 M599.88 655.78 L598.32 656.4 L597.28 658.26 L596.76 661.36 L596.76 663.22 L597.28 666.32 L598.32 668.18 L599.88 668.8 L600.92 668.8 L602.48 668.18 L603.52 666.32 L604.04 663.22 L604.04 661.36 L603.52 658.26 L602.48 656.4 L600.92 655.78 L599.88 655.78 M607.45 655.78 L610.05 668.8 M612.65 655.78 L610.05 668.8 M612.65 655.78 L615.25 668.8 M617.85 655.78 L615.25 668.8" fill="none" stroke="#000" stroke-width="1" stroke-linecap="square" stroke-linejoin="miter"/>
</g>
<g transform="translate(855,525)">
<g clip-path="url(#pc)">
<polygon fill="#E1FFFF" points="145,235 410.32,235 660.49,235 660.49,358.81 657.28,358.81 654.06,360.42 650.84,363.64 646.02,370.07 637.98,373.29 625.12,375.7 609.04,378.11 592.96,380.52 583.31,383.74 576.88,389.37 570.45,394.19 564.01,396.6 552.76,395.8 541.5,393.39 528.64,390.17 515.77,388.56 502.91,387.76 490.05,387.76 480.4,389.37 470.75,393.39 464.32,394.99 453.06,393.39 440.2,389.37 424.12,386.95 410.29,386.15 395.84,384.54 386.2,380.52 370.12,374.09 354.04,366.85 337.96,362.35 321.88,360.1 305.8,358.49 289.72,357.21 281.68,356.88 272.83,358.49 284.89,359.62 291.33,361.23 296.15,365.25 300.97,370.87 307.41,376.5 315.45,381.33 325.09,386.15 334.74,389.37 343.58,392.58 334.74,392.9 321.88,393.39 305.8,394.19 289.72,394.99 273.64,395.8 257.56,396.6 241.48,397.41 225.4,397.73 214.14,396.6 202.89,394.19 191.63,393.06 181.98,394.99 169.12,399.34 145,399.82"/>
<polygon fill="#FFFFFF" points="319.88,274.27 335.91,268.7 356.82,261.73 377.73,256.15 398.64,251.27 419.54,247.79 440.45,245.7 454.39,245 464.32,244.33 496.48,242.24 515.77,241.11 528.64,240.31 660.49,238.22 660.49,255.1 641.2,254.3 625.12,254.62 601,255.58 584.92,259.12 568.84,264.75 552.76,270.38 545,271.48 538.03,273.58 532.45,275.67 528.27,279.15 529.66,284.03 528.27,291 521.3,294.48 510.15,296.85 496.21,298.67 482.27,299.64 468.33,300.06 454.39,300.76 440.45,301.87 426.51,301.45 412.57,299.64 398.64,296.58 384.7,293.09 370.76,288.91 356.82,285.42 342.88,281.94 328.94,277.76"/>
<polygon fill="#FFFFFF" points="255.95,376.18 264.79,381.97 274.44,374.57 272.03,372.96 264.79,376.82"/>
<polygon fill="#FFFFFF" points="609.04,341.13 615.47,337.91 625.12,337.11 631.55,337.91 633.16,344.34 631.55,349.97 625.12,348.36 615.47,345.95"/>
<polygon fill="#96D2FA" points="145,241.43 193.24,243.04 225.4,247.06 247.91,251.88 259.97,255.9 247.91,260.73 235.05,266.36 222.18,272.79 209.32,280.83 201.28,286.46 196.13,290.96 206.1,295.3 217.36,300.12 228.61,304.95 241.48,309.77 254.34,315.4 263.99,318.61 273.64,319.42 283.29,316.2 286.5,314.59 292.93,310.57 302.58,308.16 315.45,307.36 334.74,308.16 328.31,318.61 321.88,324.24 312.23,325.05 302.58,324.24 289.72,324.73 276.85,325.37 267.21,327.46 257.56,328.26 241.48,329.87 225.4,332.28 209.32,334.69 193.24,335.5 177.16,333.41 164.3,331.16 145,328.26"/>
<polygon fill="#96D2FA" points="389.39,358.01 394.21,352.38 402.25,347.56 409.65,344.34 424.12,339.52 440.2,336.3 453.06,331.48 464.32,328.26 475.57,325.85 490.05,324.73 504.52,325.05 520.6,326.65 536.68,329.07 552.76,331.48 564.01,333.89 573.66,337.91 578.49,342.73 586.53,347.56 596.17,353.19 604.21,359.62 610.64,366.85 617.08,374.09 609.04,374.89 592.96,376.5 576.88,378.11 560.8,379.72 544.72,380.52 528.64,380.52 512.56,379.72 496.48,380.52 480.4,381.65 464.32,382.13 448.24,380.52 432.16,378.11 416.08,374.89 406.43,371.68 400,368.46 394.21,364.44"/>
<polygon fill="#96D2FA" points="607.43,291.28 617.08,288.06 629.94,284.85 644.41,283.72 660.49,284.04 660.49,340.32 650.84,333.09 644.41,326.65 639.59,318.61 636.37,308.97 631.55,302.53 621.9,297.71 613.86,294.5"/>
<polygon fill="#2882F0" points="470.75,358.01 477.18,353.99 486.83,348.84 499.69,348.04 512.56,348.36 525.42,349.97 536.68,353.99 546.33,358.49 536.68,363.64 527.03,366.85 512.56,369.75 499.69,370.07 490.05,369.75 480.4,366.05 473.97,362.03"/>
<polygon fill="#FFFAAA" points="145,441.18 161.08,438.45 173.94,437.96 185.2,439.57 191.63,443.59 193.24,450.02 194.85,458.06 188.42,462.08 180.38,466.91 165.9,468.52 145,469"/>
<polygon fill="#FFFAAA" points="235.85,425.9 247.91,422.37 260.77,421.56 273.64,423.49 281.36,425.58 272.03,430.41 260.77,432.66 249.52,432.34 241.48,429.12"/>
<polygon fill="#E1FFFF" points="175.23,493.44 186.81,491.83 199.67,492.63 209.32,491.03 214.14,485.4 218.97,479.77 225.4,477.36 235.05,480.57 244.69,485.4 254.34,488.61 260.77,495.05 263.99,501.48 273.64,502.28 283.29,505.5 288.91,510.32 287.31,523.99 281.68,529.62 276.85,531.71 265.6,529.62 260.77,520.77 257.56,512.73 254.34,507.11 249.52,505.5 241.48,507.11 233.44,511.13 222.18,519.97 209.32,520.77 196.46,519.97 185.2,515.15 177.16,509.52"/>
<polygon fill="#FFFAAA" points="307.22,541.69 312.82,530.66 317.91,518.78 323,508.6 328.94,501.82 335.73,496.72 344.21,492.48 352.7,488.24 362.88,483.15 371.36,478.4 369.66,474.66 365.42,470.42 361.18,467.03 352.7,465.33 342.51,465.33 328.94,465.84 317.06,465.33 307.73,463.63 302.13,458.54 305.18,450.91 315.36,448.36 323.85,445.82 331.48,443.78 340.82,444.97 351,450.91 362.88,451.76 374.76,450.91 386.63,449.21 398.51,446.67 408.69,444.46 417.18,443.27 413.78,439.88 407,433.94 396.82,434.79 383.24,436.48 369.66,438.18 356.09,439.88 344.21,440.73 333.18,441.57 328.94,433.94 325.21,425.45 334.03,422.06 344.21,416.97 351,411.03 362.88,405.94 376.45,404.24 390.03,403.39 403.6,403.39 417.18,404.24 430.75,407.64 431.6,416.97 430.75,426.3 439.24,431.39 447.72,434.79 457.91,438.18 468.09,440.73 478.27,442.42 490.15,442.42 502.03,440.73 513.9,438.69 524.09,438.18 534.27,438.69 544.45,442.08 535.96,446.67 527.48,450.91 520.69,454.3 515.6,458.54 513.06,465.33 511.36,472.97 510.51,476.36 518.99,479.76 527.48,483.15 535.96,487.39 544.45,492.48 552.93,496.72 561.42,501.82 568.21,506.06 566.51,509.45 559.72,513.69 552.93,518.78 546.15,525.57 539.36,532.36 532.57,539.15 524.09,544.24 515.6,547.63 505.42,550.18 495.24,550.69 481.66,551.03 464.69,551.88 451.12,553.57 439.24,555.27 427.36,556.97 413.78,558.66 401.91,561.21 391.72,565.45 383.24,571.39 378.15,578.18 374.76,586.66 371.36,593.45 366.27,599.39 362.88,602.78 349.3,603.63 345.91,586.66 342.51,569.69 339.12,557.81 334.88,544.24 328.94,549.33 320.45,557.47 313.67,551.03"/>
<polygon fill="#FFC03C" points="329.79,509.45 339.12,501.82 349.3,495.88 362.88,488.24 376.45,480.6 390.03,471.27 403.6,462.79 417.18,454.3 430.75,448.36 440.94,446.16 451.12,447.17 461.3,450.91 471.48,456 479.97,462.79 486.75,469.57 491.84,474.66 498.63,478.06 508.81,483.15 518.99,488.24 529.18,494.18 539.36,500.12 549.54,505.21 556.33,509.45 549.54,512.85 539.36,517.09 529.18,521.33 515.6,525.57 502.03,526.42 488.45,526.42 474.87,527.27 461.3,528.12 447.72,531.51 434.15,535.75 420.57,542.54 407,551.03 393.42,559.51 379.85,568.84 369.66,574.78 362.03,579.54 354.39,571.39 348.45,562.91 345.91,544.24 340.82,534.06 335.73,522.18"/>
<polygon fill="#FFC03C" points="317.91,543.39 320.79,539.15 324.19,543.9 320.79,547.63"/>
<polygon fill="#FFA000" points="340.82,509.96 351,503.51 362.88,495.03 376.45,486.54 390.03,478.06 403.6,470.42 417.18,463.63 430.75,459.39 444.33,458.54 454.51,461.09 463,466.18 471.48,471.27 476.57,478.06 479.97,486.54 481.66,492.48 490.15,495.03 502.03,496.72 513.9,499.27 524.09,502.66 534.27,506.91 541.05,510.3 532.57,513.69 522.39,517.09 510.51,519.63 498.63,520.82 485.06,521.33 471.48,521.33 457.91,522.18 444.33,525.57 430.75,530.66 417.18,537.45 403.6,545.94 390.03,554.42 376.45,562.91 362.88,570.54 359.48,562.91 355.24,552.72 353.54,542.54 349.3,528.97 344.21,518.78"/>
<polygon fill="#FF6000" points="358.63,508.6 366.27,500.12 376.45,492.48 390.03,484.85 403.6,477.21 417.18,471.27 430.75,468.73 444.33,468.73 454.51,471.27 462.15,475.51 463,484.85 464.69,495.03 468.09,500.12 478.27,501.82 490.15,501.82 502.03,502.66 513.9,505.21 522.39,508.6 525.78,510.3 517.3,513.69 505.42,516.24 491.84,517.09 478.27,517.09 464.69,517.09 451.12,517.09 439.24,519.63 427.36,524.72 413.78,532.36 400.21,540.85 386.63,550.18 373.06,558.66 362.88,563.75 358.63,552.72 356.09,539.15 356.09,525.57 356.94,517.09"/>
<polygon fill="#E11400" points="367.97,508.6 374.76,501.82 384.94,495.03 396.82,488.24 410.39,483.15 423.97,481.45 437.54,482.3 447.72,484.85 451.12,489.94 450.27,496.72 444.33,501.82 435.85,506.91 430.75,512 423.97,518.78 413.78,526.42 400.21,535.75 386.63,544.24 373.06,551.88 362.88,554.42 360.33,544.24 361.18,532.36 363.73,520.48"/>
<polygon fill="#E11400" points="491.84,509.96 498.63,508.94 511.36,509.45 505.42,512 496.93,512"/>
<polygon fill="#A50000" points="374.76,508.6 383.24,501.82 393.42,495.88 405.3,491.63 417.18,491.63 425.66,493.33 420.57,500.12 417.18,508.6 410.39,517.09 401.91,523.88 391.72,529.82 383.24,532.36 377.3,533.21 373.06,523.88 373.91,515.39"/>
<polygon fill="#FFFAAA" points="584.92,443.59 589.74,429.12 592.96,421.08 601,413.84 607.43,421.08 613.86,432.34 621.1,443.59 615.47,448.42 605.82,447.61 596.17,446"/>
<polygon fill="#FFFAAA" points="594.57,390.17 623.51,390.17 620.29,397.41 616.27,405.45 601,405.45 597.78,397.41"/>
<polygon fill="#E1FFFF" points="584.92,528.01 596.17,522.38 609.04,517.56 618.68,518.36 628.33,522.38 633.96,527.21 629.94,533.64 621.9,538.46 612.25,544.09 602.6,549.72 592.96,550.52 586.53,548.11 584.11,541.68"/>
<polygon fill="#FFFAAA" points="390.03,645.3 403.6,636.48 418.88,635.97 426.51,645.3"/>
<use href="#coast"/>
</g>
<rect x="151" y="240" width="507" height="405" fill="none" stroke="#000" stroke-width="2"/>
<path d="M146 274.5 H150 M146 342.5 H150 M146 409.5 H150 M146 477.5 H150 M146 544.5 H150 M146 612.5 H150 M151.5 646 V652 M264.5 646 V652 M376.5 646 V652 M489.5 646 V652 M601.5 646 V652" stroke="#000" stroke-width="1" fill="none"/>
<path d="M112.19 267.98 L110.7 268.6 L110.2 269.84 L110.2 271.08 L110.7 272.32 L111.69 272.94 L113.68 273.56 L115.17 274.18 L116.17 275.42 L116.67 276.66 L116.67 278.52 L116.17 279.76 L115.67 280.38 L114.18 281 L112.19 281 L110.7 280.38 L110.2 279.76 L109.7 278.52 L109.7 276.66 L110.2 275.42 L111.19 274.18 L112.69 273.56 L114.68 272.94 L115.67 272.32 L116.17 271.08 L116.17 269.84 L115.67 268.6 L114.18 267.98 L112.19 267.98 M123.34 267.98 L121.84 268.6 L120.85 270.46 L120.35 273.56 L120.35 275.42 L120.85 278.52 L121.84 280.38 L123.34 281 L124.33 281 L125.82 280.38 L126.82 278.52 L127.32 275.42 L127.32 273.56 L126.82 270.46 L125.82 268.6 L124.33 267.98 L123.34 267.98 M131.53 267.98 L131.53 281 M131.53 267.98 L138.5 281 M138.5 267.98 L138.5 281" fill="none" stroke="#000" stroke-width="1" stroke-linecap="square" stroke-linejoin="miter"/>
<path d="M116.67 335.53 L111.69 348.55 M109.7 335.53 L116.67 335.53 M123.34 335.53 L121.84 336.15 L120.85 338.01 L120.35 341.11 L120.35 342.97 L120.85 346.07 L121.84 347.93 L123.34 348.55 L124.33 348.55 L125.82 347.93 L126.82 346.07 L127.32 342.97 L127.32 341.11 L126.82 338.01 L125.82 336.15 L124.33 335.53 L123.34 335.53 M131.53 335.53 L131.53 348.55 M131.53 335.53 L138.5 348.55 M138.5 335.53 L138.5 348.55" fill="none" stroke="#000" stroke-width="1" stroke-linecap="square" stroke-linejoin="miter"/>
<path d="M115.78 404.94 L115.27 403.7 L113.75 403.08 L112.74 403.08 L111.22 403.7 L110.21 405.56 L109.7 408.66 L109.7 411.76 L110.21 414.24 L111.22 415.48 L112.74 416.1 L113.24 416.1 L114.76 415.48 L115.78 414.24 L116.28 412.38 L116.28 411.76 L115.78 409.9 L114.76 408.66 L113.24 408.04 L112.74 408.04 L111.22 408.66 L110.21 409.9 L109.7 411.76 M123.07 403.08 L121.55 403.7 L120.54 405.56 L120.03 408.66 L120.03 410.52 L120.54 413.62 L121.55 415.48 L123.07 416.1 L124.08 416.1 L125.6 415.48 L126.61 413.62 L127.12 410.52 L127.12 408.66 L126.61 405.56 L125.6 403.7 L124.08 403.08 L123.07 403.08 M131.41 403.08 L131.41 416.1 M131.41 403.08 L138.5 416.1 M138.5 403.08 L138.5 416.1" fill="none" stroke="#000" stroke-width="1" stroke-linecap="square" stroke-linejoin="miter"/>
<path d="M115.67 470.63 L110.7 470.63 L110.2 476.21 L110.7 475.59 L112.19 474.97 L113.68 474.97 L115.17 475.59 L116.17 476.83 L116.67 478.69 L116.67 479.93 L116.17 481.79 L115.17 483.03 L113.68 483.65 L112.19 483.65 L110.7 483.03 L110.2 482.41 L109.7 481.17 M123.34 470.63 L121.84 471.25 L120.85 473.11 L120.35 476.21 L120.35 478.07 L120.85 481.17 L121.84 483.03 L123.34 483.65 L124.33 483.65 L125.82 483.03 L126.82 481.17 L127.32 478.07 L127.32 476.21 L126.82 473.11 L125.82 471.25 L124.33 470.63 L123.34 470.63 M131.53 470.63 L131.53 483.65 M131.53 470.63 L138.5 483.65 M138.5 470.63 L138.5 483.65" fill="none" stroke="#000" stroke-width="1" stroke-linecap="square" stroke-linejoin="miter"/>
<path d="M114.68 538.18 L109.7 546.86 L117.17 546.86 M114.68 538.18 L114.68 551.2 M123.34 538.18 L121.84 538.8 L120.85 540.66 L120.35 543.76 L120.35 545.62 L120.85 548.72 L121.84 550.58 L123.34 551.2 L124.33 551.2 L125.82 550.58 L126.82 548.72 L127.32 545.62 L127.32 543.76 L126.82 540.66 L125.82 538.8 L124.33 538.18 L123.34 538.18 M131.53 538.18 L131.53 551.2 M131.53 538.18 L138.5 551.2 M138.5 538.18 L138.5 551.2" fill="none" stroke="#000" stroke-width="1" stroke-linecap="square" stroke-linejoin="miter"/>
<path d="M110.7 605.73 L116.17 605.73 L113.18 610.69 L114.68 610.69 L115.67 611.31 L116.17 611.93 L116.67 613.79 L116.67 615.03 L116.17 616.89 L115.17 618.13 L113.68 618.75 L112.19 618.75 L110.7 618.13 L110.2 617.51 L109.7 616.27 M123.34 605.73 L121.84 606.35 L120.85 608.21 L120.35 611.31 L120.35 613.17 L120.85 616.27 L121.84 618.13 L123.34 618.75 L124.33 618.75 L125.82 618.13 L126.82 616.27 L127.32 613.17 L127.32 611.31 L126.82 608.21 L125.82 606.35 L124.33 605.73 L123.34 605.73 M131.53 605.73 L131.53 618.75 M131.53 605.73 L138.5 618.75 M138.5 605.73 L138.5 618.75" fill="none" stroke="#000" stroke-width="1" stroke-linecap="square" stroke-linejoin="miter"/>
<path d="M132.3 658.26 L133.32 657.64 L134.85 655.78 L134.85 668.8 M146.79 655.78 L141.69 664.46 L149.35 664.46 M146.79 655.78 L146.79 668.8 M155.67 655.78 L154.14 656.4 L153.12 658.26 L152.61 661.36 L152.61 663.22 L153.12 666.32 L154.14 668.18 L155.67 668.8 L156.69 668.8 L158.22 668.18 L159.25 666.32 L159.76 663.22 L159.76 661.36 L159.25 658.26 L158.22 656.4 L156.69 655.78 L155.67 655.78 M163.09 655.78 L165.65 668.8 M168.2 655.78 L165.65 668.8 M168.2 655.78 L170.75 668.8 M173.3 655.78 L170.75 668.8" fill="none" stroke="#000" stroke-width="1" stroke-linecap="square" stroke-linejoin="miter"/>
<path d="M244.9 658.26 L245.92 657.64 L247.45 655.78 L247.45 668.8 M254.8 658.88 L254.8 658.26 L255.31 657.02 L255.82 656.4 L256.84 655.78 L258.88 655.78 L259.9 656.4 L260.41 657.02 L260.92 658.26 L260.92 659.5 L260.41 660.74 L259.39 662.6 L254.29 668.8 L261.43 668.8 M268.27 655.78 L266.74 656.4 L265.72 658.26 L265.21 661.36 L265.21 663.22 L265.72 666.32 L266.74 668.18 L268.27 668.8 L269.29 668.8 L270.82 668.18 L271.85 666.32 L272.36 663.22 L272.36 661.36 L271.85 658.26 L270.82 656.4 L269.29 655.78 L268.27 655.78 M275.69 655.78 L278.25 668.8 M280.8 655.78 L278.25 668.8 M280.8 655.78 L283.35 668.8 M285.9 655.78 L283.35 668.8" fill="none" stroke="#000" stroke-width="1" stroke-linecap="square" stroke-linejoin="miter"/>
<path d="M357.5 658.26 L358.52 657.64 L360.05 655.78 L360.05 668.8 M369.95 655.78 L368.42 656.4 L367.4 658.26 L366.89 661.36 L366.89 663.22 L367.4 666.32 L368.42 668.18 L369.95 668.8 L370.97 668.8 L372.5 668.18 L373.52 666.32 L374.03 663.22 L374.03 661.36 L373.52 658.26 L372.5 656.4 L370.97 655.78 L369.95 655.78 M380.87 655.78 L379.34 656.4 L378.32 658.26 L377.81 661.36 L377.81 663.22 L378.32 666.32 L379.34 668.18 L380.87 668.8 L381.89 668.8 L383.42 668.18 L384.45 666.32 L384.96 663.22 L384.96 661.36 L384.45 658.26 L383.42 656.4 L381.89 655.78 L380.87 655.78 M388.29 655.78 L390.85 668.8 M393.4 655.78 L390.85 668.8 M393.4 655.78 L395.95 668.8 M398.5 655.78 L395.95 668.8" fill="none" stroke="#000" stroke-width="1" stroke-linecap="square" stroke-linejoin="miter"/>
<path d="M476.11 655.78 L474.57 656.4 L474.06 657.64 L474.06 658.88 L474.57 660.12 L475.6 660.74 L477.64 661.36 L479.18 661.98 L480.2 663.22 L480.71 664.46 L480.71 666.32 L480.2 667.56 L479.69 668.18 L478.16 668.8 L476.11 668.8 L474.57 668.18 L474.06 667.56 L473.55 666.32 L473.55 664.46 L474.06 663.22 L475.09 661.98 L476.62 661.36 L478.67 660.74 L479.69 660.12 L480.2 658.88 L480.2 657.64 L479.69 656.4 L478.16 655.78 L476.11 655.78 M487.57 655.78 L486.04 656.4 L485.01 658.26 L484.5 661.36 L484.5 663.22 L485.01 666.32 L486.04 668.18 L487.57 668.8 L488.6 668.8 L490.13 668.18 L491.16 666.32 L491.67 663.22 L491.67 661.36 L491.16 658.26 L490.13 656.4 L488.6 655.78 L487.57 655.78 M495.01 655.78 L497.57 668.8 M500.13 655.78 L497.57 668.8 M500.13 655.78 L502.69 668.8 M505.25 655.78 L502.69 668.8" fill="none" stroke="#000" stroke-width="1" stroke-linecap="square" stroke-linejoin="miter"/>
<path d="M592.39 657.64 L591.87 656.4 L590.31 655.78 L589.27 655.78 L587.71 656.4 L586.67 658.26 L586.15 661.36 L586.15 664.46 L586.67 666.94 L587.71 668.18 L589.27 668.8 L589.79 668.8 L591.35 668.18 L592.39 666.94 L592.91 665.08 L592.91 664.46 L592.39 662.6 L591.35 661.36 L589.79 660.74 L589.27 660.74 L587.71 661.36 L586.67 662.6 L586.15 664.46 M599.88 655.78 L598.32 656.4 L597.28 658.26 L596.76 661.36 L596.76 663.22 L597.28 666.32 L598.32 668.18 L599.88 668.8 L600.92 668.8 L602.48 668.18 L603.52 666.32 L604.04 663.22 L604.04 661.36 L603.52 658.26 L602.48 656.4 L600.92 655.78 L599.88 655.78 M607.45 655.78 L610.05 668.8 M612.65 655.78 L610.05 668.8 M612.65 655.78 L615.25 668.8 M617.85 655.78 L615.25 668.8" fill="none" stroke="#000" stroke-width="1" stroke-linecap="square" stroke-linejoin="miter"/>
</g>
<path d="M795.5 323 V564.5" stroke="#000" stroke-width="1.4" fill="none"/>
<polygon points="796,325 803.7,284.5 813,325" fill="#FFE6E6"/>
<rect x="796" y="325" width="17" height="39.2" fill="#F8A0A0"/>
<rect x="796" y="364.2" width="17" height="39.5" fill="#A50000"/>
<rect x="796" y="403.7" width="17" height="39.8" fill="#E11400"/>
<rect x="796" y="443.5" width="17" height="39.8" fill="#FF6000"/>
<rect x="796" y="483.3" width="17" height="39.6" fill="#FFA000"/>
<rect x="796" y="522.9" width="17" height="39.6" fill="#FFE878"/>
<path d="M795 404.5 H813" stroke="#000" stroke-width="1" fill="none"/>
<path d="M795 444.5 H813" stroke="#000" stroke-width="1" fill="none"/>
<path d="M795 483.5 H813" stroke="#000" stroke-width="1" fill="none"/>
<path d="M795 562.5 H813" stroke="#000" stroke-width="1" fill="none"/>
<path d="M795.5 323 L803.7 284.5" stroke="#000" stroke-width="1" stroke-dasharray="4 1.5" fill="none"/>
<path d="M795.5 564 L803.7 602.5" stroke="#000" stroke-width="1.3" fill="none"/>
<path d="M819.25 322.3 L819.25 321.8 L819.69 320.8 L820.14 320.3 L821.03 319.8 L822.81 319.8 L823.7 320.3 L824.15 320.8 L824.59 321.8 L824.59 322.8 L824.15 323.8 L823.25 325.3 L818.8 330.3 L825.04 330.3 M828.78 322.3 L828.78 321.8 L829.22 320.8 L829.67 320.3 L830.56 319.8 L832.34 319.8 L833.23 320.3 L833.68 320.8 L834.12 321.8 L834.12 322.8 L833.68 323.8 L832.79 325.3 L828.33 330.3 L834.57 330.3 M840.54 319.8 L839.2 320.3 L838.31 321.8 L837.86 324.3 L837.86 325.8 L838.31 328.3 L839.2 329.8 L840.54 330.3 L841.43 330.3 L842.76 329.8 L843.65 328.3 L844.1 325.8 L844.1 324.3 L843.65 321.8 L842.76 320.3 L841.43 319.8 L840.54 319.8" fill="none" stroke="#000" stroke-width="1" stroke-linecap="square" stroke-linejoin="miter"/>
<path d="M818.8 361 L819.74 360.5 L821.15 359 L821.15 369.5 M833.57 362.5 L833.1 364 L832.16 365 L830.74 365.5 L830.27 365.5 L828.86 365 L827.92 364 L827.45 362.5 L827.45 362 L827.92 360.5 L828.86 359.5 L830.27 359 L830.74 359 L832.16 359.5 L833.1 360.5 L833.57 362.5 L833.57 365 L833.1 367.5 L832.16 369 L830.74 369.5 L829.8 369.5 L828.39 369 L827.92 368 M840.34 359 L838.93 359.5 L837.99 361 L837.52 363.5 L837.52 365 L837.99 367.5 L838.93 369 L840.34 369.5 L841.28 369.5 L842.69 369 L843.63 367.5 L844.1 365 L844.1 363.5 L843.63 361 L842.69 359.5 L841.28 359 L840.34 359" fill="none" stroke="#000" stroke-width="1" stroke-linecap="square" stroke-linejoin="miter"/>
<path d="M818.8 400.5 L819.74 400 L821.15 398.5 L821.15 409 M833.57 400 L833.1 399 L831.69 398.5 L830.74 398.5 L829.33 399 L828.39 400.5 L827.92 403 L827.92 405.5 L828.39 407.5 L829.33 408.5 L830.74 409 L831.21 409 L832.63 408.5 L833.57 407.5 L834.04 406 L834.04 405.5 L833.57 404 L832.63 403 L831.21 402.5 L830.74 402.5 L829.33 403 L828.39 404 L827.92 405.5 M840.34 398.5 L838.93 399 L837.99 400.5 L837.52 403 L837.52 404.5 L837.99 407 L838.93 408.5 L840.34 409 L841.28 409 L842.69 408.5 L843.63 407 L844.1 404.5 L844.1 403 L843.63 400.5 L842.69 399 L841.28 398.5 L840.34 398.5" fill="none" stroke="#000" stroke-width="1" stroke-linecap="square" stroke-linejoin="miter"/>
<path d="M818.8 440.3 L819.74 439.8 L821.15 438.3 L821.15 448.8 M828.39 438.3 L833.57 438.3 L830.74 442.3 L832.16 442.3 L833.1 442.8 L833.57 443.3 L834.04 444.8 L834.04 445.8 L833.57 447.3 L832.63 448.3 L831.21 448.8 L829.8 448.8 L828.39 448.3 L827.92 447.8 L827.45 446.8 M840.34 438.3 L838.93 438.8 L837.99 440.3 L837.52 442.8 L837.52 444.3 L837.99 446.8 L838.93 448.3 L840.34 448.8 L841.28 448.8 L842.69 448.3 L843.63 446.8 L844.1 444.3 L844.1 442.8 L843.63 440.3 L842.69 438.8 L841.28 438.3 L840.34 438.3" fill="none" stroke="#000" stroke-width="1" stroke-linecap="square" stroke-linejoin="miter"/>
<path d="M818.8 480.1 L819.74 479.6 L821.15 478.1 L821.15 488.6 M830.27 478.1 L828.86 478.6 L827.92 480.1 L827.45 482.6 L827.45 484.1 L827.92 486.6 L828.86 488.1 L830.27 488.6 L831.21 488.6 L832.63 488.1 L833.57 486.6 L834.04 484.1 L834.04 482.6 L833.57 480.1 L832.63 478.6 L831.21 478.1 L830.27 478.1 M840.34 478.1 L838.93 478.6 L837.99 480.1 L837.52 482.6 L837.52 484.1 L837.99 486.6 L838.93 488.1 L840.34 488.6 L841.28 488.6 L842.69 488.1 L843.63 486.6 L844.1 484.1 L844.1 482.6 L843.63 480.1 L842.69 478.6 L841.28 478.1 L840.34 478.1" fill="none" stroke="#000" stroke-width="1" stroke-linecap="square" stroke-linejoin="miter"/>
<path d="M825.01 517.7 L820.57 528.2 M818.8 517.7 L825.01 517.7 M830.95 517.7 L829.62 518.2 L828.73 519.7 L828.29 522.2 L828.29 523.7 L828.73 526.2 L829.62 527.7 L830.95 528.2 L831.84 528.2 L833.17 527.7 L834.06 526.2 L834.5 523.7 L834.5 522.2 L834.06 519.7 L833.17 518.2 L831.84 517.7 L830.95 517.7" fill="none" stroke="#000" stroke-width="1" stroke-linecap="square" stroke-linejoin="miter"/>
<path d="M823.24 557.3 L818.8 564.3 L825.45 564.3 M823.24 557.3 L823.24 567.8 M830.95 557.3 L829.62 557.8 L828.73 559.3 L828.29 561.8 L828.29 563.3 L828.73 565.8 L829.62 567.3 L830.95 567.8 L831.84 567.8 L833.17 567.3 L834.06 565.8 L834.5 563.3 L834.5 561.8 L834.06 559.3 L833.17 557.8 L831.84 557.3 L830.95 557.3" fill="none" stroke="#000" stroke-width="1" stroke-linecap="square" stroke-linejoin="miter"/>
<path d="M795.5 787.8 V1149.3" stroke="#000" stroke-width="1.4" fill="none"/>
<polygon points="796,789.8 803.7,748.9 813,789.8" fill="#A50000"/>
<rect x="796" y="789.8" width="17" height="39.6" fill="#E11400"/>
<rect x="796" y="829.4" width="17" height="40" fill="#FF6000"/>
<rect x="796" y="869.4" width="17" height="39.1" fill="#FFA000"/>
<rect x="796" y="908.5" width="17" height="39.9" fill="#FFC03C"/>
<rect x="796" y="948.4" width="17" height="39.9" fill="#FFFAAA"/>
<rect x="796" y="1028.4" width="17" height="39" fill="#E1FFFF"/>
<rect x="796" y="1067.4" width="17" height="40" fill="#96D2FA"/>
<rect x="796" y="1107.4" width="17" height="39.9" fill="#2882F0"/>
<polygon points="796,1147.3 803.7,1187.7 813,1147.3" fill="#1464D2"/>
<path d="M795 829.5 H813" stroke="#000" stroke-width="1" fill="none"/>
<path d="M795 869.5 H813" stroke="#000" stroke-width="1" fill="none"/>
<path d="M795 908.5 H813" stroke="#000" stroke-width="1" fill="none"/>
<path d="M795 948.5 H813" stroke="#000" stroke-width="1" fill="none"/>
<path d="M795 988.5 H813" stroke="#000" stroke-width="1" fill="none"/>
<path d="M795 1028.5 H813" stroke="#000" stroke-width="1" fill="none"/>
<path d="M795 1067.5 H813" stroke="#000" stroke-width="1" fill="none"/>
<path d="M795 1107.5 H813" stroke="#000" stroke-width="1" fill="none"/>
<path d="M795 1147.5 H813" stroke="#000" stroke-width="1" fill="none"/>
<path d="M795.5 787 L803.7 748.9" stroke="#000" stroke-width="1" stroke-dasharray="4 1.5" fill="none"/>
<path d="M795.5 1149 L803.7 1187.7" stroke="#000" stroke-width="1.3" fill="none"/>
<path d="M824.28 786.1 L823.82 785.1 L822.45 784.6 L821.54 784.6 L820.17 785.1 L819.26 786.6 L818.8 789.1 L818.8 791.6 L819.26 793.6 L820.17 794.6 L821.54 795.1 L821.99 795.1 L823.36 794.6 L824.28 793.6 L824.73 792.1 L824.73 791.6 L824.28 790.1 L823.36 789.1 L821.99 788.6 L821.54 788.6 L820.17 789.1 L819.26 790.1 L818.8 791.6 M830.85 784.6 L829.48 785.1 L828.57 786.6 L828.11 789.1 L828.11 790.6 L828.57 793.1 L829.48 794.6 L830.85 795.1 L831.76 795.1 L833.13 794.6 L834.04 793.1 L834.5 790.6 L834.5 789.1 L834.04 786.6 L833.13 785.1 L831.76 784.6 L830.85 784.6" fill="none" stroke="#000" stroke-width="1" stroke-linecap="square" stroke-linejoin="miter"/>
<path d="M824.12 824.2 L819.69 824.2 L819.24 828.7 L819.69 828.2 L821.02 827.7 L822.35 827.7 L823.68 828.2 L824.57 829.2 L825.01 830.7 L825.01 831.7 L824.57 833.2 L823.68 834.2 L822.35 834.7 L821.02 834.7 L819.69 834.2 L819.24 833.7 L818.8 832.7 M830.95 824.2 L829.62 824.7 L828.73 826.2 L828.29 828.7 L828.29 830.2 L828.73 832.7 L829.62 834.2 L830.95 834.7 L831.84 834.7 L833.17 834.2 L834.06 832.7 L834.5 830.2 L834.5 828.7 L834.06 826.2 L833.17 824.7 L831.84 824.2 L830.95 824.2" fill="none" stroke="#000" stroke-width="1" stroke-linecap="square" stroke-linejoin="miter"/>
<path d="M823.24 864.2 L818.8 871.2 L825.45 871.2 M823.24 864.2 L823.24 874.7 M830.95 864.2 L829.62 864.7 L828.73 866.2 L828.29 868.7 L828.29 870.2 L828.73 872.7 L829.62 874.2 L830.95 874.7 L831.84 874.7 L833.17 874.2 L834.06 872.7 L834.5 870.2 L834.5 868.7 L834.06 866.2 L833.17 864.7 L831.84 864.2 L830.95 864.2" fill="none" stroke="#000" stroke-width="1" stroke-linecap="square" stroke-linejoin="miter"/>
<path d="M819.69 903.3 L824.57 903.3 L821.9 907.3 L823.24 907.3 L824.12 907.8 L824.57 908.3 L825.01 909.8 L825.01 910.8 L824.57 912.3 L823.68 913.3 L822.35 913.8 L821.02 913.8 L819.69 913.3 L819.24 912.8 L818.8 911.8 M830.95 903.3 L829.62 903.8 L828.73 905.3 L828.29 907.8 L828.29 909.3 L828.73 911.8 L829.62 913.3 L830.95 913.8 L831.84 913.8 L833.17 913.3 L834.06 911.8 L834.5 909.3 L834.5 907.8 L834.06 905.3 L833.17 903.8 L831.84 903.3 L830.95 903.3" fill="none" stroke="#000" stroke-width="1" stroke-linecap="square" stroke-linejoin="miter"/>
<path d="M819.24 945.7 L819.24 945.2 L819.69 944.2 L820.13 943.7 L821.02 943.2 L822.79 943.2 L823.68 943.7 L824.12 944.2 L824.57 945.2 L824.57 946.2 L824.12 947.2 L823.24 948.7 L818.8 953.7 L825.01 953.7 M830.95 943.2 L829.62 943.7 L828.73 945.2 L828.29 947.7 L828.29 949.2 L828.73 951.7 L829.62 953.2 L830.95 953.7 L831.84 953.7 L833.17 953.2 L834.06 951.7 L834.5 949.2 L834.5 947.7 L834.06 945.2 L833.17 943.7 L831.84 943.2 L830.95 943.2" fill="none" stroke="#000" stroke-width="1" stroke-linecap="square" stroke-linejoin="miter"/>
<path d="M818.8 985.1 L819.77 984.6 L821.22 983.1 L821.22 993.6 M830.62 983.1 L829.17 983.6 L828.2 985.1 L827.72 987.6 L827.72 989.1 L828.2 991.6 L829.17 993.1 L830.62 993.6 L831.59 993.6 L833.05 993.1 L834.02 991.6 L834.5 989.1 L834.5 987.6 L834.02 985.1 L833.05 983.6 L831.59 983.1 L830.62 983.1" fill="none" stroke="#000" stroke-width="1" stroke-linecap="square" stroke-linejoin="miter"/>
<path d="M818.8 1029.2 L826.87 1029.2 M832.07 1025.2 L832.97 1024.7 L834.32 1023.2 L834.32 1033.7 M843.01 1023.2 L841.67 1023.7 L840.77 1025.2 L840.32 1027.7 L840.32 1029.2 L840.77 1031.7 L841.67 1033.2 L843.01 1033.7 L843.91 1033.7 L845.26 1033.2 L846.15 1031.7 L846.6 1029.2 L846.6 1027.7 L846.15 1025.2 L845.26 1023.7 L843.91 1023.2 L843.01 1023.2" fill="none" stroke="#000" stroke-width="1" stroke-linecap="square" stroke-linejoin="miter"/>
<path d="M818.8 1068.2 L826.87 1068.2 M831.18 1064.7 L831.18 1064.2 L831.63 1063.2 L832.07 1062.7 L832.97 1062.2 L834.76 1062.2 L835.66 1062.7 L836.11 1063.2 L836.56 1064.2 L836.56 1065.2 L836.11 1066.2 L835.21 1067.7 L830.73 1072.7 L837.01 1072.7 M843.01 1062.2 L841.67 1062.7 L840.77 1064.2 L840.32 1066.7 L840.32 1068.2 L840.77 1070.7 L841.67 1072.2 L843.01 1072.7 L843.91 1072.7 L845.26 1072.2 L846.15 1070.7 L846.6 1068.2 L846.6 1066.7 L846.15 1064.2 L845.26 1062.7 L843.91 1062.2 L843.01 1062.2" fill="none" stroke="#000" stroke-width="1" stroke-linecap="square" stroke-linejoin="miter"/>
<path d="M818.8 1108.2 L826.87 1108.2 M831.63 1102.2 L836.56 1102.2 L833.87 1106.2 L835.21 1106.2 L836.11 1106.7 L836.56 1107.2 L837.01 1108.7 L837.01 1109.7 L836.56 1111.2 L835.66 1112.2 L834.32 1112.7 L832.97 1112.7 L831.63 1112.2 L831.18 1111.7 L830.73 1110.7 M843.01 1102.2 L841.67 1102.7 L840.77 1104.2 L840.32 1106.7 L840.32 1108.2 L840.77 1110.7 L841.67 1112.2 L843.01 1112.7 L843.91 1112.7 L845.26 1112.2 L846.15 1110.7 L846.6 1108.2 L846.6 1106.7 L846.15 1104.2 L845.26 1102.7 L843.91 1102.2 L843.01 1102.2" fill="none" stroke="#000" stroke-width="1" stroke-linecap="square" stroke-linejoin="miter"/>
<path d="M818.8 1148.1 L826.87 1148.1 M835.21 1142.1 L830.73 1149.1 L837.45 1149.1 M835.21 1142.1 L835.21 1152.6 M843.01 1142.1 L841.67 1142.6 L840.77 1144.1 L840.32 1146.6 L840.32 1148.1 L840.77 1150.6 L841.67 1152.1 L843.01 1152.6 L843.91 1152.6 L845.26 1152.1 L846.15 1150.6 L846.6 1148.1 L846.6 1146.6 L846.15 1144.1 L845.26 1142.6 L843.91 1142.1 L843.01 1142.1" fill="none" stroke="#000" stroke-width="1" stroke-linecap="square" stroke-linejoin="miter"/>
</svg></body></html>
